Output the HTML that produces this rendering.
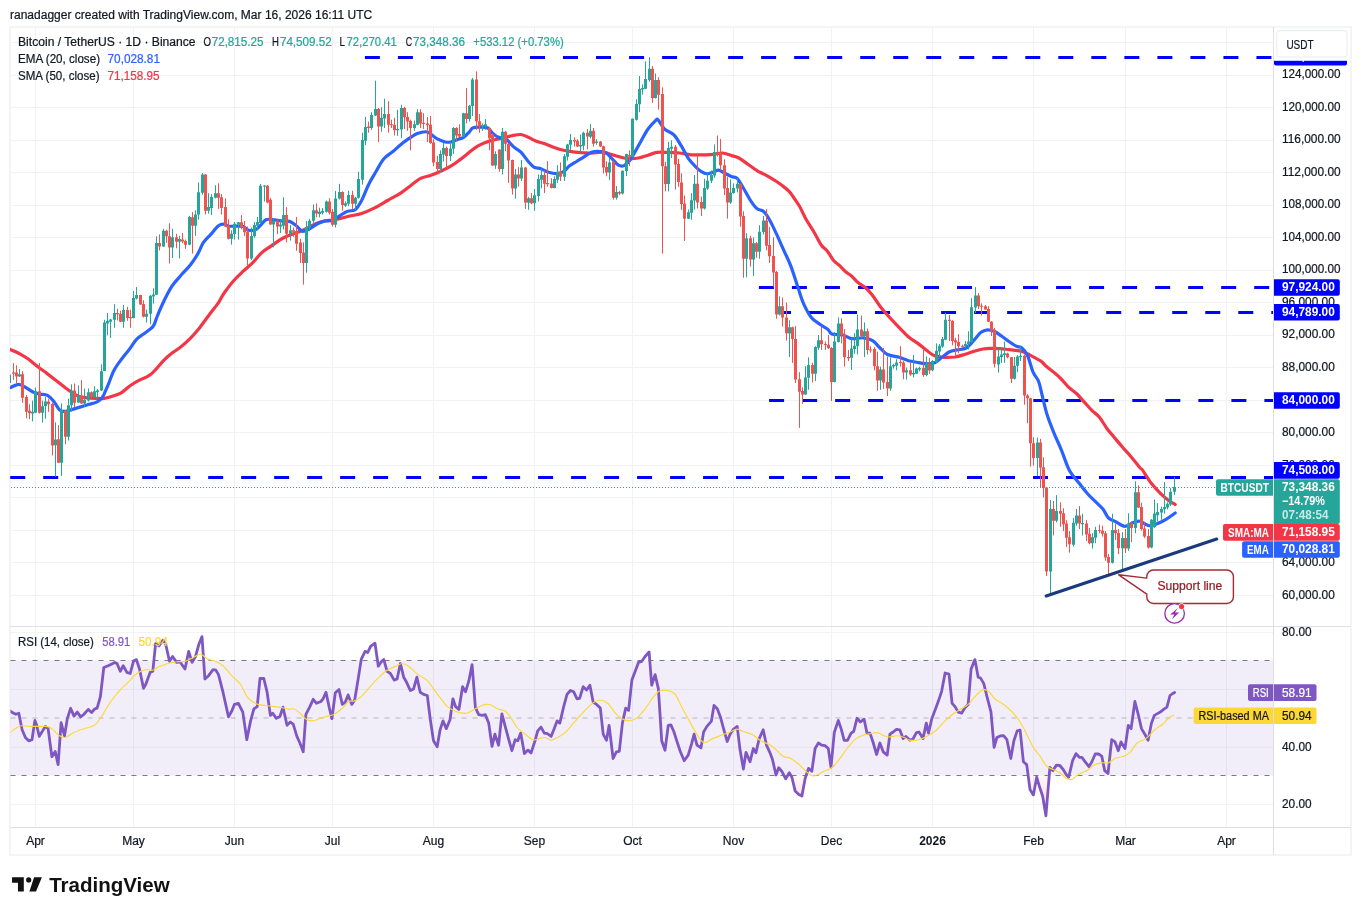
<!DOCTYPE html>
<html lang="en"><head><meta charset="utf-8"><title>BTCUSDT chart</title>
<style>html,body{margin:0;padding:0;background:#fff}svg{display:block}</style></head>
<body>
<svg width="1361" height="915" viewBox="0 0 1361 915" font-family='"Liberation Sans", Arial, sans-serif' font-size="12">
<rect width="1361" height="915" fill="#fff"/>
<text x="10.0" y="18.8" fill="#131722" textLength="362.2" lengthAdjust="spacingAndGlyphs" stroke="#131722" stroke-width="0.22">ranadagger created with TradingView.com, Mar 16, 2026 16:11 UTC</text>
<clipPath id="cp"><rect x="10" y="27.5" width="1263.5" height="599.0"/></clipPath>
<clipPath id="cr"><rect x="10.5" y="626.5" width="1263.0" height="201.0"/></clipPath>
<path d="M35.5 27V827.5M133.5 27V827.5M234.5 27V827.5M332.5 27V827.5M433.5 27V827.5M534.5 27V827.5M632.5 27V827.5M733.5 27V827.5M831.5 27V827.5M932.5 27V827.5M1033.5 27V827.5M1125.5 27V827.5M1226.5 27V827.5M10 595.5H1273.5M10 562.5H1273.5M10 530.5H1273.5M10 497.5H1273.5M10 465.5H1273.5M10 432.5H1273.5M10 400.5H1273.5M10 367.5H1273.5M10 335.5H1273.5M10 302.5H1273.5M10 270.5H1273.5M10 237.5H1273.5M10 205.5H1273.5M10 172.5H1273.5M10 140.5H1273.5M10 107.5H1273.5M10 75.5H1273.5M10 42.5H1273.5M10 632.4H1273.5M10 689.4H1273.5M10 747.2H1273.5M10 804.4H1273.5" stroke="#f1f2f4" stroke-width="1" fill="none"/>
<rect x="10" y="27" width="1341" height="828" fill="none" stroke="#f1f2f4" stroke-width="1.6"/>
<rect x="10.5" y="660.5" width="1263.0" height="115" fill="#7e57c2" fill-opacity="0.1"/>
<path d="M10.5 660.5H1273.5M10.5 775.5H1273.5" stroke="#787b86" stroke-width="1.2" stroke-dasharray="5 6" fill="none"/>
<path d="M10.5 718H1273.5" stroke="#787b86" stroke-opacity="0.5" stroke-width="1.2" stroke-dasharray="5 6" fill="none"/>
<g clip-path="url(#cp)">
<path d="M364.9 57.5H1273.5" stroke="#0000ff" stroke-width="3" stroke-dasharray="15 18.02" fill="none"/>
<path d="M758.9 287.5H1273.5" stroke="#0000ff" stroke-width="3" stroke-dasharray="15 18.02" fill="none"/>
<path d="M776.0 312.5H1273.5" stroke="#0000ff" stroke-width="3" stroke-dasharray="15 18.02" fill="none"/>
<path d="M769.1 400.5H1273.5" stroke="#0000ff" stroke-width="3" stroke-dasharray="15 18.02" fill="none"/>
<path d="M10.2 477.5H1273.5" stroke="#0000ff" stroke-width="3" stroke-dasharray="15 17.994" fill="none"/>
<path d="M10.2 349.5C11.6 350.1 15.6 351.7 18.6 353.2C21.5 354.8 24.8 356.6 27.9 358.8C31.0 361.0 34.1 363.8 37.2 366.2C40.3 368.6 43.4 370.8 46.5 373.1C49.5 375.4 52.6 377.8 55.7 380.2C58.8 382.6 62.4 385.6 65.0 387.6C67.7 389.6 69.4 390.9 71.5 392.2C73.7 393.6 75.4 395.0 78.0 396.0C80.7 396.9 84.2 397.4 87.3 397.8C90.4 398.2 93.8 398.3 96.6 398.4C99.4 398.5 101.6 398.7 104.1 398.4C106.5 398.1 108.7 397.4 111.5 396.5C114.3 395.7 117.7 395.0 120.8 393.2C123.9 391.4 127.0 387.9 130.1 385.7C133.2 383.6 135.9 382.0 139.4 380.2C142.8 378.3 146.3 378.0 150.5 374.6C154.7 371.2 160.8 363.3 164.3 359.8C167.9 356.2 169.0 355.5 171.8 353.3C174.5 351.1 177.9 349.3 181.0 346.8C184.1 344.3 187.5 341.2 190.3 338.4C193.1 335.6 194.7 333.9 197.8 330.1C200.9 326.2 205.5 319.7 208.9 315.2C212.3 310.7 216.0 306.2 218.2 303.1C220.4 300.0 220.5 298.8 221.9 296.6C223.3 294.4 224.5 292.5 226.5 289.8C228.4 287.1 231.1 283.6 233.9 280.5C236.7 277.4 240.1 274.2 243.2 271.2C246.3 268.3 249.4 265.9 252.5 262.9C255.6 259.8 258.7 255.4 261.8 252.6C264.9 249.8 267.9 248.3 271.0 246.1C274.1 244.0 277.5 241.3 280.3 239.6C283.1 237.9 285.3 237.0 287.8 235.9C290.2 234.8 292.7 234.1 295.2 233.1C297.7 232.2 300.2 231.4 302.6 230.3C305.1 229.3 307.6 227.9 310.1 226.6C312.5 225.4 314.7 223.9 317.5 222.9C320.3 221.9 324.0 221.1 326.8 220.7C329.6 220.2 330.6 220.8 334.2 220.1C337.9 219.4 344.0 217.4 348.6 216.3C353.1 215.2 357.3 214.9 361.6 213.5C365.9 212.1 370.3 210.1 374.6 207.9C378.9 205.8 383.3 203.0 387.6 200.5C391.9 198.0 396.6 195.7 400.6 193.1C404.6 190.4 408.3 187.2 411.8 184.7C415.2 182.2 417.9 179.8 421.0 178.2C424.1 176.7 427.2 176.5 430.3 175.4C433.4 174.3 436.2 173.3 439.6 171.7C443.0 170.2 447.4 168.1 450.8 166.1C454.2 164.1 457.0 161.9 460.1 159.6C463.2 157.3 466.6 154.4 469.4 152.2C472.1 150.0 474.3 148.2 476.8 146.6C479.3 145.1 481.2 144.1 484.2 142.9C487.2 141.7 491.9 140.3 494.9 139.6C497.9 138.8 499.5 138.9 502.3 138.3C505.1 137.6 508.5 136.5 511.6 135.8C514.7 135.2 518.1 134.3 520.9 134.5C523.7 134.8 525.8 136.2 528.3 137.3C530.8 138.4 533.0 140.0 535.7 141.0C538.5 142.1 541.9 142.7 545.0 143.8C548.1 144.9 551.2 146.5 554.3 147.5C557.4 148.6 560.5 149.6 563.6 150.3C566.7 151.0 569.8 151.4 572.9 151.8C576.0 152.2 579.1 152.3 582.2 152.6C585.3 152.8 588.1 153.2 591.5 153.1C594.9 153.1 599.5 152.0 602.6 152.2C605.7 152.3 607.3 153.3 610.1 154.1C612.9 154.8 616.3 156.1 619.4 156.8C622.5 157.6 625.4 158.5 628.6 158.7C631.8 158.9 635.4 158.6 638.6 158.0C641.8 157.4 644.8 156.1 647.9 155.2C651.0 154.3 653.8 152.9 657.2 152.4C660.6 151.9 664.6 152.3 668.3 152.4C672.0 152.5 675.7 152.6 679.5 153.0C683.2 153.4 686.9 154.5 690.6 154.8C694.3 155.1 698.0 154.9 701.8 154.8C705.5 154.7 709.5 154.6 712.9 154.3C716.3 154.0 719.1 152.8 722.2 153.0C725.3 153.2 728.7 154.7 731.5 155.6C734.3 156.4 736.1 156.5 738.9 158.0C741.7 159.5 745.1 162.3 748.2 164.5C751.3 166.7 755.5 169.7 757.5 171.0C759.5 172.3 758.3 171.4 760.0 172.3C761.7 173.1 765.1 174.7 767.6 176.1C770.2 177.5 772.7 179.1 775.3 180.7C777.8 182.4 780.7 184.3 782.9 186.1C785.2 187.8 787.3 189.5 789.1 191.4C790.9 193.3 791.9 195.0 793.7 197.5C795.4 200.1 797.7 203.1 799.8 206.7C801.8 210.3 803.6 214.9 805.9 219.0C808.2 223.0 811.0 226.9 813.5 231.2C816.1 235.5 818.9 241.7 821.2 245.0C823.5 248.3 825.3 248.5 827.3 251.1C829.4 253.6 831.4 257.8 833.4 260.3C835.5 262.7 837.5 263.7 839.6 265.6C841.6 267.5 843.6 270.0 845.7 271.7C847.7 273.5 849.8 274.5 851.8 276.3C853.8 278.1 855.6 280.5 857.9 282.5C860.2 284.4 863.0 285.5 865.6 287.8C868.1 290.1 870.4 292.7 873.2 296.2C876.0 299.8 878.1 304.0 882.4 309.2C886.7 314.5 894.9 323.0 899.3 327.6C903.7 332.2 905.5 334.3 908.6 336.9C911.7 339.5 914.8 341.1 917.9 343.4C921.0 345.7 924.4 348.8 927.2 350.8C929.9 352.9 931.8 354.8 934.6 355.8C937.4 356.9 940.5 357.1 943.9 357.3C947.3 357.5 951.6 357.4 955.0 357.0C958.4 356.5 961.2 355.5 964.3 354.5C967.4 353.6 970.5 352.3 973.6 351.4C976.7 350.5 979.8 349.5 982.9 349.0C986.0 348.5 989.3 348.5 992.2 348.4C995.0 348.4 997.2 348.5 1000.0 348.7C1002.8 348.9 1006.1 349.3 1009.2 349.6C1012.2 349.9 1015.6 350.1 1018.4 350.7C1021.2 351.2 1023.5 351.9 1026.0 352.9C1028.6 354.0 1031.1 355.8 1033.7 357.2C1036.2 358.6 1039.3 359.9 1041.3 361.4C1043.3 362.8 1043.9 364.2 1045.9 366.0C1047.9 367.7 1051.0 369.9 1053.5 372.1C1056.1 374.2 1058.6 376.4 1061.2 379.0C1063.7 381.5 1066.3 385.0 1068.8 387.4C1071.4 389.8 1073.9 391.1 1076.5 393.5C1079.0 395.9 1081.6 399.1 1084.1 401.9C1086.7 404.7 1089.2 407.8 1091.8 410.3C1094.3 412.9 1096.9 414.1 1099.4 417.2C1102.0 420.3 1104.5 425.2 1107.1 428.7C1109.6 432.1 1112.2 434.8 1114.7 437.9C1117.3 440.9 1119.8 444.1 1122.4 447.0C1124.9 450.0 1127.1 452.0 1130.0 455.5C1133.0 458.9 1137.9 465.3 1140.0 467.7C1142.1 470.1 1140.5 467.4 1142.4 469.9C1144.3 472.5 1148.2 479.2 1151.1 483.1C1154.1 486.9 1157.0 490.0 1159.9 492.9C1162.8 495.8 1166.1 498.6 1168.6 500.5C1171.2 502.5 1174.1 503.8 1175.2 504.5" stroke="#f23645" stroke-width="3.2" fill="none" stroke-linejoin="round" stroke-linecap="round"/>
<path d="M10.2 387.6C11.6 387.0 16.3 384.4 18.6 384.3C20.9 384.1 21.8 385.4 24.2 386.7C26.5 387.9 29.9 390.4 32.5 391.7C35.1 392.9 37.5 393.5 39.9 394.1C42.4 394.7 45.1 394.2 47.4 395.4C49.7 396.6 51.9 399.1 53.9 401.5C55.9 404.0 57.8 408.3 59.5 409.9C61.2 411.5 62.2 411.4 64.1 411.4C66.0 411.4 68.0 410.6 70.6 409.9C73.2 409.2 76.8 408.0 79.9 407.1C83.0 406.2 86.4 405.2 89.2 404.3C92.0 403.5 94.6 403.0 96.6 402.1C98.6 401.2 100.0 400.1 101.3 398.7C102.5 397.4 103.0 396.3 104.1 394.1C105.1 391.9 106.1 389.8 107.8 385.7C109.5 381.7 111.7 374.6 114.2 370.0C116.6 365.4 119.9 361.5 122.5 357.9C125.1 354.4 127.6 351.7 129.9 348.6C132.3 345.5 134.1 341.8 136.5 339.4C138.8 336.9 141.1 335.9 143.9 333.8C146.7 331.6 151.0 329.1 153.2 326.3C155.3 323.6 155.0 321.4 156.9 317.1C158.7 312.7 161.8 305.4 164.3 300.3C166.8 295.2 169.0 290.6 171.8 286.4C174.5 282.2 177.9 278.8 181.0 275.3C184.1 271.7 187.5 268.6 190.3 265.0C193.1 261.5 195.6 257.6 197.8 253.9C199.9 250.2 201.2 246.0 203.3 242.7C205.5 239.5 208.3 237.2 210.8 234.4C213.3 231.6 216.0 227.7 218.2 226.0C220.4 224.3 222.1 224.1 223.8 224.2C225.5 224.2 226.3 225.7 228.3 226.1C230.3 226.4 233.3 226.2 235.7 226.2C238.2 226.3 241.0 225.9 243.2 226.6C245.3 227.3 246.6 229.9 248.7 230.3C250.9 230.8 254.0 230.5 256.2 229.4C258.3 228.3 260.1 225.5 261.8 223.8C263.5 222.2 264.5 220.3 266.4 219.6C268.3 218.8 270.3 219.3 272.9 219.6C275.5 219.8 279.4 220.7 282.2 221.0C285.0 221.4 287.5 220.8 289.6 221.4C291.8 222.0 293.3 223.3 295.2 224.8C297.1 226.2 299.4 229.3 300.8 230.3C302.2 231.4 302.0 231.6 303.6 231.3C305.1 231.0 307.7 229.7 310.1 228.5C312.4 227.2 315.0 225.1 317.5 223.8C320.0 222.6 322.5 221.7 324.9 221.0C327.4 220.4 328.7 221.7 332.4 220.1C336.0 218.5 342.9 213.4 346.7 211.6C350.5 209.9 352.6 211.6 355.1 209.8C357.6 207.9 359.3 204.8 361.6 200.5C363.9 196.2 366.5 188.7 369.0 183.8C371.5 178.8 374.0 175.0 376.5 170.8C378.9 166.6 381.1 161.9 383.9 158.7C386.7 155.4 390.4 153.6 393.2 151.3C396.0 148.9 398.1 146.8 400.6 144.8C403.1 142.7 405.3 141.0 408.0 139.2C410.8 137.3 414.2 134.9 417.3 133.6C420.4 132.4 424.3 131.6 426.6 131.8C428.9 131.9 429.4 133.3 431.3 134.5C433.1 135.8 435.4 137.9 437.8 139.2C440.1 140.4 443.0 141.5 445.2 142.0C447.4 142.4 448.6 142.4 450.8 142.0C452.9 141.5 456.0 140.0 458.2 139.2C460.4 138.4 461.9 138.6 463.8 137.3C465.6 136.1 467.8 133.4 469.4 131.8C470.9 130.1 471.2 128.4 473.1 127.7C474.9 126.9 478.0 127.0 480.5 127.1C483.0 127.2 485.8 127.0 487.9 128.0C490.0 129.1 491.2 132.1 493.0 133.6C494.8 135.2 496.4 136.4 498.6 137.3C500.7 138.3 503.5 137.6 506.0 139.2C508.5 140.7 511.0 144.5 513.4 146.6C515.9 148.8 518.4 149.7 520.9 152.2C523.4 154.7 526.1 159.0 528.3 161.5C530.5 164.0 531.7 165.8 533.9 167.1C536.1 168.3 538.8 168.0 541.3 168.9C543.8 169.8 546.3 171.5 548.7 172.3C551.2 173.0 553.7 173.7 556.2 173.6C558.7 173.5 561.4 172.9 563.6 171.7C565.8 170.5 567.0 167.8 569.2 166.1C571.4 164.4 574.1 163.0 576.6 161.5C579.1 159.9 581.6 158.4 584.1 156.8C586.5 155.3 589.0 153.1 591.5 152.2C594.0 151.3 596.4 151.1 598.9 151.3C601.4 151.4 604.0 151.7 606.3 153.1C608.7 154.5 610.8 157.6 612.9 159.6C614.9 161.6 616.6 164.2 618.4 165.2C620.3 166.2 622.0 166.5 624.0 165.6C626.0 164.6 627.8 163.5 630.5 159.6C633.2 155.7 637.5 147.3 640.4 142.2C643.3 137.1 645.4 132.7 647.9 129.2C650.3 125.6 653.6 122.4 655.3 120.8C657.0 119.3 656.5 118.5 658.1 119.9C659.6 121.3 662.0 126.7 664.6 129.2C667.2 131.7 671.1 132.0 673.9 134.8C676.7 137.5 678.8 141.9 681.3 145.9C683.8 149.9 686.3 155.4 688.7 158.9C691.2 162.5 694.0 165.1 696.2 167.3C698.3 169.4 699.9 170.8 701.8 171.9C703.6 173.0 705.5 173.7 707.3 173.8C709.2 173.8 711.0 172.9 712.9 172.3C714.8 171.7 716.6 170.0 718.5 170.1C720.3 170.2 721.9 171.8 724.1 172.9C726.2 173.9 729.3 175.6 731.5 176.6C733.7 177.5 735.2 176.7 737.1 178.4C739.0 180.2 740.7 183.5 742.9 187.2C745.1 190.8 748.0 196.6 750.3 200.2C752.7 203.7 754.7 206.7 756.8 208.5C759.0 210.4 761.3 209.6 763.3 211.3C765.4 213.0 766.7 215.0 768.9 218.7C771.1 222.5 773.9 228.3 776.3 233.6C778.8 238.9 781.3 244.8 783.8 250.3C786.3 255.9 788.8 260.7 791.2 267.1C793.6 273.4 796.2 282.4 798.3 288.6C800.4 294.8 801.7 299.6 803.9 304.4C806.1 309.2 808.5 314.0 811.3 317.4C814.1 320.8 817.8 322.8 820.6 324.8C823.4 326.8 826.2 327.9 828.0 329.5C829.9 331.0 829.3 333.2 831.8 334.1C834.2 335.0 839.5 334.3 842.9 335.0C846.3 335.8 848.8 338.3 852.2 338.7C855.6 339.2 859.9 337.5 863.3 337.8C866.7 338.1 869.8 338.9 872.6 340.6C875.4 342.3 877.6 345.7 880.1 348.0C882.5 350.4 884.3 353.0 887.5 354.5C890.7 356.1 895.8 356.3 899.3 357.3C902.8 358.4 905.5 359.8 908.6 360.7C911.7 361.5 914.8 362.0 917.9 362.5C921.0 363.1 924.4 363.8 927.2 363.8C929.9 363.9 932.1 364.0 934.6 362.9C937.1 361.8 939.5 359.2 942.0 357.3C944.5 355.5 947.0 353.0 949.5 351.8C951.9 350.5 954.1 350.5 956.9 349.9C959.7 349.3 963.4 349.6 966.2 348.0C969.0 346.5 971.1 343.2 973.6 340.6C976.1 338.0 978.7 334.0 981.0 332.2C983.4 330.4 985.4 330.0 987.5 329.8C989.7 329.7 991.7 330.3 994.1 331.3C996.4 332.3 999.0 334.3 1001.5 336.0C1004.0 337.7 1006.4 339.8 1008.9 341.5C1011.4 343.2 1014.2 345.1 1016.3 346.2C1018.5 347.3 1020.1 346.5 1021.9 348.0C1023.8 349.6 1025.6 351.4 1027.5 355.5C1029.4 359.5 1031.2 367.9 1033.1 372.2C1034.9 376.5 1037.1 377.5 1038.6 381.5C1040.2 385.5 1040.9 390.7 1042.4 396.3C1043.8 402.0 1045.4 409.2 1047.3 415.3C1049.2 421.4 1051.5 427.0 1053.9 432.8C1056.2 438.6 1059.0 444.1 1061.5 450.3C1064.1 456.5 1066.3 464.5 1069.2 469.9C1072.1 475.4 1075.9 479.1 1079.0 483.1C1082.1 487.1 1084.8 490.7 1087.8 494.0C1090.7 497.3 1094.0 500.2 1096.5 502.7C1099.1 505.3 1101.1 506.7 1103.1 509.3C1105.1 511.8 1106.3 515.9 1108.5 518.0C1110.7 520.1 1113.4 520.6 1116.2 522.0C1118.9 523.4 1122.0 526.3 1124.9 526.3C1127.8 526.4 1131.1 523.2 1133.7 522.4C1136.2 521.6 1137.7 520.8 1140.2 521.3C1142.8 521.9 1146.0 525.3 1149.0 525.7C1151.9 526.0 1154.8 524.6 1157.7 523.5C1160.6 522.4 1163.5 520.9 1166.4 519.1C1169.4 517.4 1173.7 514.0 1175.2 513.0" stroke="#2962ff" stroke-width="3.2" fill="none" stroke-linejoin="round" stroke-linecap="round"/>
<path d="M9.50 372.4V383.9M19.50 369.0V376.8M32.50 400.6V421.4M35.50 387.6V413.1M42.50 400.6V422.5M45.50 396.9V418.8M55.50 422.3V476.8M61.50 403.4V475.9M68.50 398.7V440.6M71.50 384.3V411.8M78.50 385.4V402.8M84.50 388.5V406.6M88.50 388.5V401.5M94.50 386.3V397.3M97.50 389.1V399.7M101.50 364.4V390.8M104.50 319.8V370.9M107.50 313.0V335.3M110.50 318.9V337.9M114.50 304.1V327.8M123.50 305.0V327.8M133.50 291.0V318.4M136.50 287.0V299.4M146.50 309.6V322.6M150.50 295.1V324.1M153.50 288.3V303.7M156.50 236.2V295.1M163.50 228.8V246.8M172.50 228.8V258.0M179.50 235.7V258.5M189.50 215.8V245.2M195.50 210.3V235.9M198.50 182.4V219.6M202.50 173.1V194.7M208.50 193.2V213.6M211.50 194.1V215.1M215.50 185.2V198.4M231.50 230.3V244.6M234.50 222.0V239.6M238.50 222.0V239.6M251.50 227.5V260.1M254.50 222.0V237.8M257.50 217.0V230.3M260.50 183.9V223.8M264.50 185.0V201.5M273.50 218.8V247.4M280.50 219.2V233.1M283.50 197.3V229.4M290.50 225.1V240.6M306.50 221.0V272.7M309.50 218.8V231.3M313.50 204.3V222.9M319.50 207.7V217.3M322.50 208.0V214.5M326.50 200.6V212.7M335.50 190.9V227.5M339.50 183.8V199.6M345.50 201.4V207.0M348.50 190.8V206.1M355.50 196.8V209.8M358.50 171.7V198.6M362.50 132.7V184.7M365.50 116.9V145.1M371.50 112.2V129.9M375.50 80.7V116.0M381.50 107.2V131.8M384.50 98.7V128.0M397.50 109.8V135.8M401.50 104.8V138.3M414.50 120.6V130.8M417.50 109.1V125.3M440.50 150.3V173.0M443.50 142.9V161.5M450.50 142.0V161.1M453.50 127.1V154.1M463.50 112.8V137.3M469.50 104.8V121.5M472.50 77.9V116.0M482.50 123.4V130.8M485.50 119.1V129.9M495.50 151.3V168.9M502.50 128.0V174.5M515.50 168.9V198.6M521.50 160.0V181.0M528.50 196.8V209.8M534.50 189.0V210.7M538.50 174.5V201.4M541.50 168.9V188.4M554.50 176.3V188.4M557.50 165.2V182.9M564.50 154.1V181.0M567.50 143.8V160.6M570.50 134.0V150.3M580.50 134.5V152.6M583.50 131.8V150.3M590.50 124.0V138.3M596.50 139.2V144.8M609.50 157.8V180.1M616.50 186.0V199.6M622.50 170.4V194.6M626.50 153.7V176.0M632.50 118.4V157.4M636.50 99.2V120.6M639.50 76.0V112.2M642.50 84.4V94.6M645.50 61.4V89.2M649.50 57.1V81.8M655.50 73.4V98.5M668.50 141.8V191.4M671.50 140.3V158.0M688.50 209.5V219.1M691.50 193.1V219.7M694.50 175.1V209.5M704.50 178.8V209.5M707.50 172.3V189.9M711.50 170.4V183.1M714.50 144.4V177.9M730.50 179.4V203.9M733.50 183.4V193.8M737.50 178.2V192.4M746.50 233.2V277.3M753.50 237.3V276.0M759.50 225.3V258.7M763.50 216.0V234.5M779.50 296.4V315.5M789.50 320.2V357.0M805.50 366.2V394.9M808.50 357.3V389.8M815.50 346.2V381.1M818.50 335.0V349.9M834.50 332.2V382.4M838.50 317.4V342.5M851.50 337.8V370.0M854.50 333.2V353.6M857.50 314.6V354.5M864.50 322.4V357.0M880.50 366.6V389.8M890.50 357.3V390.8M893.50 363.8V368.5M896.50 359.2V370.3M906.50 367.5V379.6M913.50 355.1V377.4M916.50 367.5V374.1M919.50 366.6V371.3M926.50 356.4V376.3M932.50 360.1V371.3M936.50 343.4V362.9M939.50 344.0V357.0M942.50 336.9V347.7M945.50 312.7V340.2M965.50 341.0V348.4M968.50 331.3V349.5M971.50 298.2V342.5M975.50 287.1V313.1M998.50 347.7V372.6M1001.50 348.0V362.9M1004.50 341.5V362.9M1014.50 357.0V379.6M1017.50 355.1V372.2M1020.50 345.8V361.0M1037.50 437.6V476.1M1050.50 500.1V594.5M1056.50 495.1V522.4M1073.50 518.0V546.4M1076.50 508.9V525.7M1082.50 513.7V535.5M1092.50 533.3V548.6M1095.50 526.8V543.2M1112.50 513.7V563.5M1122.50 532.2V569.4M1128.50 513.2V550.8M1135.50 481.3V533.3M1151.50 519.1V548.2M1154.50 499.5V527.9M1157.50 503.2V521.5M1161.50 506.7V519.8M1164.50 482.0V513.7M1167.50 502.3V509.3M1170.50 487.9V506.0M1174.50 476.9V495.1" stroke="#26a69a" stroke-width="1" fill="none"/>
<path d="M13.50 363.1V379.8M16.50 365.3V383.9M22.50 371.2V402.8M26.50 395.0V418.3M29.50 404.3V419.2M39.50 363.1V413.6M48.50 398.7V411.8M52.50 402.5V455.4M58.50 425.1V463.0M65.50 409.9V444.3M74.50 383.5V407.1M81.50 380.2V403.8M91.50 391.3V397.8M117.50 308.7V320.4M120.50 310.6V322.1M127.50 306.8V320.8M130.50 309.6V327.8M140.50 294.8V305.0M143.50 300.3V317.4M159.50 234.4V250.5M166.50 229.7V242.7M169.50 223.2V263.5M176.50 233.8V248.3M182.50 233.1V243.3M185.50 239.6V248.9M192.50 212.1V253.6M205.50 174.2V214.5M218.50 183.3V209.0M221.50 194.1V214.5M225.50 198.4V227.0M228.50 219.2V239.6M241.50 215.1V229.4M244.50 221.0V235.9M247.50 226.6V265.6M267.50 185.0V203.4M270.50 197.8V224.8M277.50 219.2V234.1M286.50 207.1V242.4M293.50 227.5V236.8M296.50 217.0V250.8M300.50 238.7V262.9M303.50 242.4V284.6M316.50 203.4V217.3M329.50 198.2V214.5M332.50 209.0V226.6M342.50 191.2V210.7M352.50 190.8V208.9M368.50 121.5V132.7M378.50 108.0V142.0M388.50 101.1V132.7M391.50 119.7V128.0M394.50 117.8V135.5M404.50 106.7V129.0M407.50 112.2V130.8M410.50 119.7V150.3M420.50 109.1V128.0M423.50 113.2V129.0M427.50 116.9V142.0M430.50 116.0V143.8M433.50 139.2V166.1M437.50 155.9V171.7M446.50 146.6V168.0M456.50 127.1V141.0M459.50 124.3V137.3M466.50 88.1V123.4M476.50 71.4V129.9M479.50 114.1V132.7M489.50 127.1V150.3M492.50 133.6V166.1M499.50 149.4V171.7M505.50 130.8V151.3M508.50 142.9V182.9M512.50 159.6V194.6M518.50 167.1V186.6M525.50 167.1V208.9M531.50 193.1V204.2M544.50 170.8V193.1M547.50 161.1V186.6M551.50 178.2V188.4M560.50 162.4V181.0M574.50 137.3V146.6M577.50 139.2V147.0M587.50 129.0V149.4M593.50 128.0V146.6M600.50 141.0V147.0M603.50 145.7V173.6M606.50 161.5V176.3M613.50 160.6V199.6M619.50 190.8V195.3M629.50 150.3V166.1M652.50 66.0V102.8M658.50 77.2V109.7M662.50 87.4V253.7M665.50 161.7V191.4M675.50 145.0V189.6M678.50 158.9V186.8M681.50 173.2V209.8M684.50 195.5V241.0M697.50 155.6V208.5M701.50 196.5V216.0M717.50 135.5V156.5M720.50 138.9V170.4M724.50 159.3V195.0M727.50 176.9V218.7M740.50 183.4V226.6M743.50 211.3V277.8M750.50 235.8V266.7M756.50 242.0V257.8M766.50 209.1V250.3M769.50 227.1V263.0M773.50 237.3V286.6M776.50 270.9V318.7M782.50 297.5V326.7M786.50 302.5V340.6M792.50 326.7V362.9M795.50 326.1V383.0M799.50 372.2V427.9M802.50 387.4V403.8M812.50 362.9V382.4M821.50 326.7V349.9M825.50 341.5V349.9M828.50 335.0V349.0M831.50 347.1V401.0M841.50 318.3V343.4M844.50 329.1V366.6M848.50 349.9V361.0M861.50 315.5V337.8M867.50 328.5V354.5M870.50 346.2V352.7M874.50 347.1V370.3M877.50 351.8V390.8M883.50 348.0V388.9M887.50 356.4V396.0M900.50 346.2V366.6M903.50 361.0V379.3M910.50 362.5V375.9M923.50 349.0V376.8M929.50 357.9V373.9M949.50 315.0V341.0M952.50 320.2V345.3M955.50 337.8V355.8M958.50 334.1V353.2M962.50 344.7V347.7M978.50 293.2V309.0M981.50 303.4V315.5M985.50 304.9V309.9M988.50 306.2V322.0M991.50 321.1V336.0M994.50 328.0V367.5M1007.50 352.7V358.3M1011.50 357.0V383.0M1024.50 354.5V404.7M1027.50 394.1V423.3M1030.50 397.8V466.7M1033.50 437.2V465.6M1040.50 438.9V487.4M1043.50 457.3V497.3M1046.50 487.0V576.0M1053.50 501.0V535.5M1060.50 502.3V526.8M1063.50 508.2V531.1M1066.50 520.2V546.9M1069.50 531.1V552.6M1079.50 506.0V529.0M1086.50 519.8V541.0M1089.50 527.9V544.3M1099.50 524.6V533.3M1102.50 525.7V536.6M1105.50 531.1V560.7M1108.50 554.1V574.4M1115.50 523.5V539.9M1118.50 529.0V554.1M1125.50 529.0V553.0M1131.50 521.3V542.1M1138.50 485.2V508.2M1141.50 502.7V530.7M1144.50 522.4V538.1M1148.50 529.0V548.6" stroke="#ef5350" stroke-width="1" fill="none"/>
<path d="M8.00 374.6h3.0V383.0h-3.0zM18.00 374.2h3.0V376.5h-3.0zM31.00 411.8h3.0V413.6h-3.0zM34.00 391.3h3.0V412.7h-3.0zM41.00 406.2h3.0V412.7h-3.0zM44.00 401.5h3.0V406.2h-3.0zM54.00 439.6h3.0V445.2h-3.0zM60.00 409.9h3.0V462.7h-3.0zM67.00 405.3h3.0V436.8h-3.0zM70.00 390.4h3.0V405.3h-3.0zM77.00 395.0h3.0V402.5h-3.0zM83.00 399.7h3.0V403.4h-3.0zM87.00 392.2h3.0V400.6h-3.0zM93.00 391.3h3.0V396.9h-3.0zM96.00 390.4h3.0V392.2h-3.0zM100.00 371.2h3.0V390.4h-3.0zM103.00 322.6h3.0V370.9h-3.0zM106.00 320.8h3.0V323.6h-3.0zM109.00 319.5h3.0V321.7h-3.0zM113.00 313.0h3.0V319.8h-3.0zM122.00 310.0h3.0V321.7h-3.0zM132.00 298.1h3.0V318.0h-3.0zM135.00 295.1h3.0V298.5h-3.0zM145.00 313.7h3.0V316.7h-3.0zM149.00 295.7h3.0V313.7h-3.0zM152.00 294.4h3.0V296.6h-3.0zM155.00 243.1h3.0V294.8h-3.0zM162.00 230.7h3.0V246.5h-3.0zM171.00 237.2h3.0V247.4h-3.0zM178.00 239.0h3.0V241.8h-3.0zM188.00 217.0h3.0V244.8h-3.0zM194.00 214.5h3.0V225.7h-3.0zM197.00 192.2h3.0V214.5h-3.0zM201.00 174.6h3.0V192.8h-3.0zM207.00 207.1h3.0V210.8h-3.0zM210.00 196.9h3.0V208.0h-3.0zM214.00 193.2h3.0V197.8h-3.0zM230.00 233.7h3.0V238.7h-3.0zM233.00 223.8h3.0V234.1h-3.0zM237.00 222.3h3.0V224.8h-3.0zM250.00 235.9h3.0V258.6h-3.0zM253.00 225.1h3.0V236.3h-3.0zM256.00 222.0h3.0V225.7h-3.0zM259.00 185.7h3.0V222.9h-3.0zM263.00 185.4h3.0V186.4h-3.0zM272.00 220.7h3.0V224.4h-3.0zM279.00 224.4h3.0V226.6h-3.0zM282.00 215.1h3.0V225.7h-3.0zM289.00 230.3h3.0V234.1h-3.0zM305.00 227.0h3.0V262.9h-3.0zM308.00 220.7h3.0V227.5h-3.0zM312.00 210.3h3.0V220.7h-3.0zM318.00 211.8h3.0V214.0h-3.0zM321.00 210.8h3.0V212.7h-3.0zM325.00 201.5h3.0V211.8h-3.0zM334.00 198.4h3.0V224.8h-3.0zM338.00 192.1h3.0V198.6h-3.0zM344.00 203.3h3.0V205.7h-3.0zM347.00 194.9h3.0V203.8h-3.0zM354.00 197.7h3.0V203.8h-3.0zM357.00 179.1h3.0V197.7h-3.0zM361.00 140.1h3.0V179.7h-3.0zM364.00 127.1h3.0V140.7h-3.0zM370.00 115.0h3.0V128.0h-3.0zM374.00 109.1h3.0V115.4h-3.0zM380.00 117.8h3.0V126.6h-3.0zM383.00 114.1h3.0V118.4h-3.0zM396.00 129.0h3.0V130.3h-3.0zM400.00 108.0h3.0V129.5h-3.0zM413.00 124.3h3.0V128.0h-3.0zM416.00 112.2h3.0V124.7h-3.0zM439.00 154.1h3.0V168.9h-3.0zM442.00 148.1h3.0V154.4h-3.0zM449.00 148.5h3.0V155.9h-3.0zM452.00 128.0h3.0V148.8h-3.0zM462.00 113.2h3.0V136.4h-3.0zM468.00 105.7h3.0V119.1h-3.0zM471.00 79.4h3.0V106.1h-3.0zM481.00 125.3h3.0V126.6h-3.0zM484.00 124.3h3.0V126.2h-3.0zM494.00 154.1h3.0V165.6h-3.0zM501.00 131.8h3.0V168.9h-3.0zM514.00 174.5h3.0V188.4h-3.0zM520.00 167.4h3.0V178.6h-3.0zM527.00 198.3h3.0V202.7h-3.0zM533.00 195.3h3.0V203.3h-3.0zM537.00 179.1h3.0V195.9h-3.0zM540.00 174.9h3.0V179.7h-3.0zM553.00 179.1h3.0V187.9h-3.0zM556.00 171.7h3.0V179.7h-3.0zM563.00 156.3h3.0V176.7h-3.0zM566.00 144.4h3.0V156.8h-3.0zM569.00 140.1h3.0V144.8h-3.0zM579.00 145.1h3.0V146.6h-3.0zM582.00 132.7h3.0V145.7h-3.0zM589.00 130.8h3.0V136.8h-3.0zM595.00 141.4h3.0V142.9h-3.0zM608.00 162.4h3.0V172.6h-3.0zM615.00 192.1h3.0V197.7h-3.0zM621.00 170.8h3.0V193.4h-3.0zM625.00 154.1h3.0V171.1h-3.0zM631.00 118.7h3.0V156.8h-3.0zM635.00 103.9h3.0V119.7h-3.0zM638.00 89.0h3.0V104.3h-3.0zM641.00 88.1h3.0V89.4h-3.0zM644.00 79.0h3.0V88.7h-3.0zM648.00 68.8h3.0V79.9h-3.0zM654.00 79.9h3.0V98.0h-3.0zM667.00 148.1h3.0V184.0h-3.0zM670.00 146.8h3.0V148.7h-3.0zM687.00 212.2h3.0V218.7h-3.0zM690.00 200.2h3.0V212.8h-3.0zM693.00 183.8h3.0V200.5h-3.0zM703.00 188.1h3.0V208.5h-3.0zM706.00 180.7h3.0V188.5h-3.0zM710.00 175.1h3.0V180.7h-3.0zM713.00 151.9h3.0V175.5h-3.0zM729.00 192.4h3.0V202.4h-3.0zM732.00 188.1h3.0V193.1h-3.0zM736.00 183.8h3.0V188.5h-3.0zM745.00 238.3h3.0V258.7h-3.0zM752.00 243.3h3.0V259.6h-3.0zM758.00 231.8h3.0V251.8h-3.0zM762.00 220.6h3.0V232.1h-3.0zM778.00 306.2h3.0V314.6h-3.0zM788.00 327.2h3.0V333.5h-3.0zM804.00 377.4h3.0V394.5h-3.0zM807.00 365.1h3.0V377.8h-3.0zM814.00 347.1h3.0V373.7h-3.0zM817.00 340.2h3.0V347.7h-3.0zM833.00 341.5h3.0V381.9h-3.0zM837.00 323.5h3.0V342.1h-3.0zM850.00 348.4h3.0V357.7h-3.0zM853.00 345.8h3.0V349.0h-3.0zM856.00 329.5h3.0V346.2h-3.0zM863.00 331.3h3.0V336.0h-3.0zM879.00 369.4h3.0V380.6h-3.0zM889.00 366.2h3.0V388.5h-3.0zM892.00 365.1h3.0V366.6h-3.0zM895.00 362.5h3.0V365.7h-3.0zM905.00 370.3h3.0V372.6h-3.0zM912.00 373.1h3.0V374.4h-3.0zM915.00 368.5h3.0V373.7h-3.0zM918.00 368.1h3.0V369.4h-3.0zM925.00 363.8h3.0V375.0h-3.0zM931.00 361.0h3.0V370.3h-3.0zM935.00 350.8h3.0V362.0h-3.0zM938.00 345.8h3.0V351.4h-3.0zM941.00 339.1h3.0V346.6h-3.0zM944.00 319.8h3.0V339.7h-3.0zM964.00 344.0h3.0V346.6h-3.0zM967.00 341.5h3.0V344.3h-3.0zM970.00 307.2h3.0V342.1h-3.0zM974.00 295.6h3.0V307.5h-3.0zM997.00 356.4h3.0V364.4h-3.0zM1000.00 354.5h3.0V357.0h-3.0zM1003.00 353.2h3.0V355.1h-3.0zM1013.00 365.7h3.0V378.7h-3.0zM1016.00 356.4h3.0V365.7h-3.0zM1019.00 355.8h3.0V357.3h-3.0zM1036.00 442.6h3.0V457.9h-3.0zM1049.00 508.9h3.0V571.6h-3.0zM1055.00 511.0h3.0V520.7h-3.0zM1072.00 522.8h3.0V544.7h-3.0zM1075.00 515.4h3.0V523.5h-3.0zM1081.00 523.1h3.0V524.2h-3.0zM1091.00 537.3h3.0V543.2h-3.0zM1094.00 530.1h3.0V537.7h-3.0zM1111.00 530.1h3.0V562.8h-3.0zM1121.00 538.1h3.0V548.2h-3.0zM1127.00 523.5h3.0V548.6h-3.0zM1134.00 492.2h3.0V527.9h-3.0zM1150.00 519.8h3.0V547.5h-3.0zM1153.00 513.4h3.0V527.2h-3.0zM1156.00 511.9h3.0V515.2h-3.0zM1160.00 508.9h3.0V512.6h-3.0zM1163.00 507.1h3.0V509.3h-3.0zM1166.00 503.8h3.0V507.5h-3.0zM1169.00 491.8h3.0V504.5h-3.0zM1173.00 487.0h3.0V491.8h-3.0z" fill="#26a69a"/>
<path d="M12.00 372.4h3.0V373.8h-3.0zM15.00 372.4h3.0V376.5h-3.0zM21.00 374.2h3.0V397.8h-3.0zM25.00 396.9h3.0V411.8h-3.0zM28.00 410.8h3.0V413.2h-3.0zM38.00 391.3h3.0V412.7h-3.0zM47.00 401.5h3.0V404.3h-3.0zM51.00 404.0h3.0V445.6h-3.0zM57.00 439.3h3.0V462.7h-3.0zM64.00 410.8h3.0V436.8h-3.0zM73.00 390.4h3.0V402.8h-3.0zM80.00 395.4h3.0V403.4h-3.0zM90.00 392.2h3.0V396.9h-3.0zM116.00 313.0h3.0V314.3h-3.0zM119.00 313.7h3.0V321.7h-3.0zM126.00 310.0h3.0V318.0h-3.0zM129.00 317.1h3.0V318.2h-3.0zM139.00 295.1h3.0V304.4h-3.0zM142.00 304.1h3.0V316.7h-3.0zM158.00 243.1h3.0V246.5h-3.0zM165.00 230.7h3.0V236.2h-3.0zM168.00 236.2h3.0V247.4h-3.0zM175.00 237.2h3.0V241.8h-3.0zM181.00 239.6h3.0V241.5h-3.0zM184.00 241.1h3.0V244.8h-3.0zM191.00 217.3h3.0V225.7h-3.0zM204.00 174.6h3.0V210.8h-3.0zM217.00 193.2h3.0V197.8h-3.0zM220.00 197.3h3.0V208.0h-3.0zM224.00 207.1h3.0V226.6h-3.0zM227.00 225.7h3.0V238.7h-3.0zM240.00 222.3h3.0V227.5h-3.0zM243.00 226.6h3.0V232.2h-3.0zM246.00 231.8h3.0V258.6h-3.0zM266.00 185.7h3.0V202.5h-3.0zM269.00 199.7h3.0V224.4h-3.0zM276.00 220.7h3.0V226.6h-3.0zM285.00 215.1h3.0V233.7h-3.0zM292.00 230.3h3.0V231.8h-3.0zM295.00 231.3h3.0V243.7h-3.0zM299.00 242.4h3.0V253.0h-3.0zM302.00 252.6h3.0V262.9h-3.0zM315.00 210.3h3.0V213.6h-3.0zM328.00 201.5h3.0V212.7h-3.0zM331.00 211.8h3.0V224.8h-3.0zM341.00 192.1h3.0V205.1h-3.0zM351.00 194.9h3.0V203.8h-3.0zM367.00 126.6h3.0V128.0h-3.0zM377.00 109.1h3.0V126.6h-3.0zM387.00 114.1h3.0V124.7h-3.0zM390.00 124.3h3.0V125.3h-3.0zM393.00 124.7h3.0V130.3h-3.0zM403.00 108.0h3.0V117.3h-3.0zM406.00 116.9h3.0V121.5h-3.0zM409.00 121.0h3.0V128.0h-3.0zM419.00 112.2h3.0V123.4h-3.0zM422.00 122.8h3.0V124.0h-3.0zM426.00 123.4h3.0V125.3h-3.0zM429.00 124.7h3.0V142.9h-3.0zM432.00 142.5h3.0V162.4h-3.0zM436.00 162.0h3.0V168.9h-3.0zM445.00 148.1h3.0V155.9h-3.0zM455.00 128.0h3.0V135.5h-3.0zM458.00 134.0h3.0V136.4h-3.0zM465.00 113.2h3.0V119.1h-3.0zM475.00 79.4h3.0V121.5h-3.0zM478.00 121.2h3.0V126.2h-3.0zM488.00 128.0h3.0V138.3h-3.0zM491.00 134.5h3.0V165.6h-3.0zM498.00 149.4h3.0V168.9h-3.0zM504.00 131.8h3.0V143.8h-3.0zM507.00 143.8h3.0V160.6h-3.0zM511.00 160.0h3.0V188.4h-3.0zM517.00 174.5h3.0V178.6h-3.0zM524.00 167.4h3.0V202.4h-3.0zM530.00 198.3h3.0V203.3h-3.0zM543.00 174.9h3.0V183.8h-3.0zM546.00 182.9h3.0V184.2h-3.0zM550.00 183.4h3.0V187.9h-3.0zM559.00 171.7h3.0V176.7h-3.0zM573.00 140.1h3.0V141.4h-3.0zM576.00 140.7h3.0V146.6h-3.0zM586.00 132.7h3.0V136.4h-3.0zM592.00 130.8h3.0V143.8h-3.0zM599.00 141.4h3.0V146.6h-3.0zM602.00 146.2h3.0V167.4h-3.0zM605.00 167.1h3.0V172.6h-3.0zM612.00 161.5h3.0V197.7h-3.0zM618.00 192.1h3.0V193.4h-3.0zM628.00 155.0h3.0V156.8h-3.0zM651.00 68.8h3.0V98.0h-3.0zM657.00 79.9h3.0V94.8h-3.0zM661.00 93.9h3.0V166.3h-3.0zM664.00 166.3h3.0V184.0h-3.0zM674.00 146.8h3.0V164.5h-3.0zM677.00 164.1h3.0V182.1h-3.0zM680.00 182.5h3.0V203.9h-3.0zM683.00 203.5h3.0V218.7h-3.0zM696.00 183.8h3.0V202.4h-3.0zM700.00 202.0h3.0V208.5h-3.0zM716.00 151.9h3.0V153.7h-3.0zM719.00 152.8h3.0V165.2h-3.0zM723.00 165.2h3.0V188.6h-3.0zM726.00 188.1h3.0V202.4h-3.0zM739.00 183.8h3.0V216.5h-3.0zM742.00 216.0h3.0V258.7h-3.0zM749.00 238.3h3.0V259.6h-3.0zM755.00 243.3h3.0V251.8h-3.0zM765.00 220.6h3.0V245.7h-3.0zM768.00 245.1h3.0V256.3h-3.0zM772.00 255.9h3.0V272.6h-3.0zM775.00 271.9h3.0V314.6h-3.0zM781.00 306.2h3.0V317.4h-3.0zM785.00 317.4h3.0V333.2h-3.0zM791.00 327.2h3.0V339.1h-3.0zM794.00 339.1h3.0V379.6h-3.0zM798.00 379.3h3.0V391.7h-3.0zM801.00 391.1h3.0V394.5h-3.0zM811.00 365.1h3.0V373.7h-3.0zM820.00 340.2h3.0V344.3h-3.0zM824.00 344.0h3.0V345.0h-3.0zM827.00 344.7h3.0V348.0h-3.0zM830.00 348.0h3.0V381.9h-3.0zM840.00 323.5h3.0V335.0h-3.0zM843.00 334.7h3.0V357.3h-3.0zM847.00 357.0h3.0V358.3h-3.0zM860.00 329.5h3.0V336.0h-3.0zM866.00 331.3h3.0V349.9h-3.0zM869.00 349.5h3.0V350.5h-3.0zM873.00 349.0h3.0V366.2h-3.0zM876.00 366.2h3.0V380.6h-3.0zM882.00 369.4h3.0V382.4h-3.0zM886.00 382.0h3.0V388.5h-3.0zM899.00 362.0h3.0V363.0h-3.0zM902.00 362.5h3.0V372.6h-3.0zM909.00 370.3h3.0V374.4h-3.0zM922.00 368.1h3.0V375.0h-3.0zM928.00 363.8h3.0V370.5h-3.0zM948.00 319.8h3.0V321.1h-3.0zM951.00 321.1h3.0V341.0h-3.0zM954.00 340.2h3.0V342.5h-3.0zM957.00 342.1h3.0V346.2h-3.0zM961.00 345.8h3.0V346.8h-3.0zM977.00 295.6h3.0V306.2h-3.0zM980.00 305.7h3.0V306.8h-3.0zM984.00 306.2h3.0V309.4h-3.0zM987.00 309.0h3.0V321.7h-3.0zM990.00 321.7h3.0V330.4h-3.0zM993.00 329.8h3.0V363.8h-3.0zM1006.00 353.6h3.0V357.3h-3.0zM1010.00 357.3h3.0V378.7h-3.0zM1023.00 355.8h3.0V395.4h-3.0zM1026.00 395.4h3.0V398.2h-3.0zM1029.00 398.3h3.0V443.3h-3.0zM1032.00 443.3h3.0V457.9h-3.0zM1039.00 442.6h3.0V467.8h-3.0zM1042.00 467.3h3.0V487.9h-3.0zM1045.00 487.4h3.0V571.6h-3.0zM1052.00 508.9h3.0V520.7h-3.0zM1059.00 511.0h3.0V513.7h-3.0zM1062.00 513.2h3.0V524.2h-3.0zM1065.00 523.5h3.0V537.7h-3.0zM1068.00 537.3h3.0V544.3h-3.0zM1078.00 515.4h3.0V523.5h-3.0zM1085.00 523.5h3.0V534.4h-3.0zM1088.00 533.8h3.0V543.2h-3.0zM1098.00 530.1h3.0V531.1h-3.0zM1101.00 530.7h3.0V533.8h-3.0zM1104.00 533.3h3.0V557.4h-3.0zM1107.00 556.9h3.0V562.8h-3.0zM1114.00 530.1h3.0V533.3h-3.0zM1117.00 532.9h3.0V548.2h-3.0zM1124.00 538.1h3.0V548.6h-3.0zM1130.00 523.5h3.0V527.9h-3.0zM1137.00 492.2h3.0V507.5h-3.0zM1140.00 507.1h3.0V529.0h-3.0zM1143.00 528.5h3.0V536.6h-3.0zM1147.00 536.0h3.0V547.5h-3.0z" fill="#ef5350"/>
<path d="M11 487.5H1215" stroke="#26a69a" stroke-width="1" stroke-dasharray="1 2" fill="none"/>
<path d="M1046.2 596L1216.7 539.1" stroke="#1a3a7c" stroke-width="3.2" stroke-linecap="round" fill="none"/>
</g>
<path d="M1153.3 570H1226.9a6.5 6.5 0 0 1 6.5 6.5V597a6.5 6.5 0 0 1 -6.5 6.5H1153.3a6.5 6.5 0 0 1 -6.5 -6.5V594.1L1118.7 574.8L1146.8 578.1V576.5a6.5 6.5 0 0 1 6.5 -6.5z" fill="#fff" stroke="#a52a33" stroke-width="1.4" stroke-linejoin="round"/>
<text x="1157.5" y="589.9" fill="#98141f" textLength="64.8" lengthAdjust="spacingAndGlyphs" stroke="#98141f" stroke-width="0.22">Support line</text>
<circle cx="1174.6" cy="613.4" r="9.8" fill="#fff" stroke="#9c27b0" stroke-width="1.3"/>
<path d="M1177.6 608.2L1170.2 614.6H1174.4L1171.8 619.4L1179.2 612.6H1175z" fill="#9c27b0"/>
<circle cx="1181.6" cy="606.6" r="3.4" fill="#fff"/><circle cx="1181.6" cy="606.6" r="2.6" fill="#f23645"/>
<g clip-path="url(#cr)">
<clipPath id="c70"><rect x="10" y="626.5" width="1263.5" height="34.2"/></clipPath>
<clipPath id="c30"><rect x="10" y="775.5" width="1263.5" height="52.0"/></clipPath>
<linearGradient id="gg" gradientUnits="userSpaceOnUse" x1="0" y1="626.3" x2="0" y2="660.7"><stop offset="0" stop-color="#4caf50" stop-opacity="0.16"/><stop offset="1" stop-color="#4caf50" stop-opacity="0"/></linearGradient>
<linearGradient id="gr" gradientUnits="userSpaceOnUse" x1="0" y1="775.5" x2="0" y2="821.4"><stop offset="0" stop-color="#ff5252" stop-opacity="0.04"/><stop offset="1" stop-color="#ff5252" stop-opacity="0.3"/></linearGradient>
<path d="M9.9 711.0L13.7 713.2L15.9 714.3L18.8 713.2L22.1 729.8L25.4 737.5L28.7 740.8L32.0 739.7L34.9 720.5L36.4 724.2L39.3 736.4L41.9 732.0L45.3 726.4L48.1 728.6L51.9 756.7L55.2 751.4L58.1 764.6L61.1 722.7L64.5 735.9L67.3 718.7L70.6 708.3L74.0 716.1L77.3 712.1L80.6 716.9L83.9 714.3L88.3 709.4L91.6 712.5L94.9 708.8L97.1 708.1L100.4 696.6L103.8 667.5L108.2 665.7L114.8 662.4L117.0 663.5L120.3 671.3L123.2 665.7L126.9 672.4L130.2 673.5L133.6 660.9L136.4 659.6L139.5 669.0L143.5 688.3L145.7 684.5L150.1 672.4L152.8 671.3L155.6 643.7L158.9 645.9L162.9 640.3L165.6 643.7L169.5 661.3L172.6 656.5L176.6 662.4L179.9 661.8L185.0 669.0L188.7 651.4L192.1 662.4L195.4 656.9L198.7 644.8L202.0 636.6L204.9 679.0L208.6 675.7L213.0 669.7L215.9 670.2L218.5 674.6L223.0 692.2L228.5 716.9L231.8 711.0L234.4 704.4L238.4 703.3L242.8 712.1L246.8 739.7L250.6 720.9L253.9 708.8L257.2 706.6L260.0 678.5L263.8 678.5L267.1 692.2L270.4 715.4L272.6 713.2L276.4 718.3L279.9 716.5L283.0 707.2L287.0 725.3L290.3 722.0L293.2 724.2L296.9 736.4L299.9 743.0L303.2 751.8L305.9 714.3L309.9 706.6L313.2 699.3L316.5 703.3L320.9 701.5L323.1 698.8L326.0 692.2L329.3 707.7L331.9 718.7L335.3 692.7L339.0 689.6L342.3 704.4L345.2 702.2L348.1 694.9L351.8 704.4L354.7 700.0L358.0 680.1L361.3 659.1L365.1 651.4L367.7 652.5L370.6 646.3L375.0 643.2L378.3 666.2L381.6 661.3L383.8 659.6L387.1 671.3L390.4 673.5L394.2 680.1L397.1 679.0L400.4 663.5L403.7 677.2L406.6 682.3L410.3 690.5L413.6 688.9L416.9 677.2L420.2 692.2L423.6 694.4L427.3 695.5L430.2 718.7L433.5 740.8L437.2 746.8L440.1 729.8L443.0 720.9L446.3 728.6L450.0 719.8L452.9 698.8L455.6 706.6L458.9 709.4L462.6 686.7L465.5 691.8L468.8 681.2L472.1 664.6L475.4 707.7L478.7 714.7L482.1 715.4L485.4 714.7L488.7 723.1L492.0 746.3L494.9 734.2L498.6 745.2L501.9 713.9L505.2 726.4L508.5 738.6L511.9 750.7L515.2 739.7L517.8 740.8L520.7 733.1L524.4 753.6L528.0 750.1L531.1 752.9L535.0 740.8L537.7 730.9L541.0 727.1L544.3 733.1L547.2 733.5L551.1 736.4L553.8 729.8L557.1 720.9L559.8 723.1L563.7 706.6L567.0 694.4L570.4 690.5L573.7 691.8L577.0 698.8L579.6 698.4L583.2 686.7L586.6 690.0L589.9 685.2L593.2 702.2L596.6 704.4L600.3 708.1L603.2 734.2L606.5 740.3L609.1 725.3L613.1 758.5L616.4 751.8L619.3 751.4L622.4 723.1L625.7 708.1L628.6 710.3L631.9 680.1L635.2 671.3L638.5 662.4L641.8 661.3L645.1 656.5L649.1 652.0L651.7 685.2L655.1 674.6L658.4 688.9L661.7 740.8L665.0 750.3L668.3 725.3L670.9 724.9L673.8 731.5L677.1 741.9L680.4 751.8L684.2 760.7L688.2 755.1L691.5 744.1L694.1 734.2L697.0 745.2L701.0 747.9L703.6 732.0L706.9 726.4L711.3 721.4L714.0 705.5L717.3 708.8L720.6 717.6L723.9 729.8L727.2 741.5L730.1 734.2L733.4 729.3L737.2 726.4L740.0 749.6L743.4 769.0L746.0 752.3L750.0 761.8L753.3 748.5L755.9 752.9L759.2 738.6L763.2 729.8L766.5 745.2L769.8 752.3L772.5 759.6L776.0 775.0L778.7 767.7L782.0 771.7L785.7 778.8L789.3 772.8L791.9 777.2L795.2 791.1L798.5 794.2L801.9 796.0L805.2 778.3L808.5 768.4L811.8 771.3L815.1 748.5L818.4 743.0L821.7 745.2L825.0 745.6L828.3 748.5L831.0 767.3L834.3 732.4L838.3 720.5L841.1 728.6L844.2 740.3L847.5 740.3L851.1 733.1L853.7 731.5L857.0 718.3L860.4 722.0L864.1 719.2L867.0 733.1L870.0 733.1L873.3 743.0L876.6 754.5L879.9 743.0L883.2 751.8L887.2 755.1L889.9 734.2L893.2 732.0L896.5 729.3L899.8 729.8L903.1 738.6L906.0 736.4L909.7 740.1L913.0 739.0L916.4 732.6L919.0 732.0L923.0 738.6L926.3 723.1L928.5 733.1L931.8 718.7L935.1 709.9L938.4 701.1L941.7 691.1L945.1 673.0L949.0 674.1L952.1 703.3L955.0 706.6L958.3 712.1L961.6 713.2L964.9 707.7L968.2 704.4L971.1 669.0L974.9 659.6L978.2 677.2L980.4 677.9L983.7 683.4L987.0 696.6L991.0 712.1L994.1 747.4L996.9 737.5L1000.2 735.9L1003.6 735.7L1006.9 739.7L1010.8 758.5L1013.9 740.8L1017.2 730.9L1020.1 730.2L1023.4 761.8L1026.7 764.6L1030.0 789.4L1033.4 794.9L1036.7 777.2L1040.0 788.3L1042.6 796.0L1045.9 815.8L1049.9 767.3L1052.8 770.6L1056.5 765.1L1059.8 765.5L1063.2 769.5L1066.5 775.0L1068.7 777.2L1072.6 760.7L1076.0 753.6L1079.3 757.3L1081.9 757.3L1085.2 761.8L1089.0 766.6L1091.9 761.8L1095.2 754.0L1098.5 754.0L1101.8 756.2L1104.7 770.6L1108.0 773.5L1111.7 739.7L1115.0 741.9L1118.3 750.7L1121.0 741.9L1125.0 748.5L1128.3 725.3L1131.1 728.6L1134.9 701.5L1138.2 714.3L1141.5 728.6L1144.8 734.2L1148.1 740.3L1151.5 723.1L1154.3 715.4L1157.0 713.9L1160.3 712.1L1163.6 709.4L1166.9 707.2L1170.0 695.5L1172.0 694.0L1174.6 692.5L1174.6 660.7L9.9 660.7z" fill="url(#gg)" clip-path="url(#c70)"/>
<path d="M9.9 711.0L13.7 713.2L15.9 714.3L18.8 713.2L22.1 729.8L25.4 737.5L28.7 740.8L32.0 739.7L34.9 720.5L36.4 724.2L39.3 736.4L41.9 732.0L45.3 726.4L48.1 728.6L51.9 756.7L55.2 751.4L58.1 764.6L61.1 722.7L64.5 735.9L67.3 718.7L70.6 708.3L74.0 716.1L77.3 712.1L80.6 716.9L83.9 714.3L88.3 709.4L91.6 712.5L94.9 708.8L97.1 708.1L100.4 696.6L103.8 667.5L108.2 665.7L114.8 662.4L117.0 663.5L120.3 671.3L123.2 665.7L126.9 672.4L130.2 673.5L133.6 660.9L136.4 659.6L139.5 669.0L143.5 688.3L145.7 684.5L150.1 672.4L152.8 671.3L155.6 643.7L158.9 645.9L162.9 640.3L165.6 643.7L169.5 661.3L172.6 656.5L176.6 662.4L179.9 661.8L185.0 669.0L188.7 651.4L192.1 662.4L195.4 656.9L198.7 644.8L202.0 636.6L204.9 679.0L208.6 675.7L213.0 669.7L215.9 670.2L218.5 674.6L223.0 692.2L228.5 716.9L231.8 711.0L234.4 704.4L238.4 703.3L242.8 712.1L246.8 739.7L250.6 720.9L253.9 708.8L257.2 706.6L260.0 678.5L263.8 678.5L267.1 692.2L270.4 715.4L272.6 713.2L276.4 718.3L279.9 716.5L283.0 707.2L287.0 725.3L290.3 722.0L293.2 724.2L296.9 736.4L299.9 743.0L303.2 751.8L305.9 714.3L309.9 706.6L313.2 699.3L316.5 703.3L320.9 701.5L323.1 698.8L326.0 692.2L329.3 707.7L331.9 718.7L335.3 692.7L339.0 689.6L342.3 704.4L345.2 702.2L348.1 694.9L351.8 704.4L354.7 700.0L358.0 680.1L361.3 659.1L365.1 651.4L367.7 652.5L370.6 646.3L375.0 643.2L378.3 666.2L381.6 661.3L383.8 659.6L387.1 671.3L390.4 673.5L394.2 680.1L397.1 679.0L400.4 663.5L403.7 677.2L406.6 682.3L410.3 690.5L413.6 688.9L416.9 677.2L420.2 692.2L423.6 694.4L427.3 695.5L430.2 718.7L433.5 740.8L437.2 746.8L440.1 729.8L443.0 720.9L446.3 728.6L450.0 719.8L452.9 698.8L455.6 706.6L458.9 709.4L462.6 686.7L465.5 691.8L468.8 681.2L472.1 664.6L475.4 707.7L478.7 714.7L482.1 715.4L485.4 714.7L488.7 723.1L492.0 746.3L494.9 734.2L498.6 745.2L501.9 713.9L505.2 726.4L508.5 738.6L511.9 750.7L515.2 739.7L517.8 740.8L520.7 733.1L524.4 753.6L528.0 750.1L531.1 752.9L535.0 740.8L537.7 730.9L541.0 727.1L544.3 733.1L547.2 733.5L551.1 736.4L553.8 729.8L557.1 720.9L559.8 723.1L563.7 706.6L567.0 694.4L570.4 690.5L573.7 691.8L577.0 698.8L579.6 698.4L583.2 686.7L586.6 690.0L589.9 685.2L593.2 702.2L596.6 704.4L600.3 708.1L603.2 734.2L606.5 740.3L609.1 725.3L613.1 758.5L616.4 751.8L619.3 751.4L622.4 723.1L625.7 708.1L628.6 710.3L631.9 680.1L635.2 671.3L638.5 662.4L641.8 661.3L645.1 656.5L649.1 652.0L651.7 685.2L655.1 674.6L658.4 688.9L661.7 740.8L665.0 750.3L668.3 725.3L670.9 724.9L673.8 731.5L677.1 741.9L680.4 751.8L684.2 760.7L688.2 755.1L691.5 744.1L694.1 734.2L697.0 745.2L701.0 747.9L703.6 732.0L706.9 726.4L711.3 721.4L714.0 705.5L717.3 708.8L720.6 717.6L723.9 729.8L727.2 741.5L730.1 734.2L733.4 729.3L737.2 726.4L740.0 749.6L743.4 769.0L746.0 752.3L750.0 761.8L753.3 748.5L755.9 752.9L759.2 738.6L763.2 729.8L766.5 745.2L769.8 752.3L772.5 759.6L776.0 775.0L778.7 767.7L782.0 771.7L785.7 778.8L789.3 772.8L791.9 777.2L795.2 791.1L798.5 794.2L801.9 796.0L805.2 778.3L808.5 768.4L811.8 771.3L815.1 748.5L818.4 743.0L821.7 745.2L825.0 745.6L828.3 748.5L831.0 767.3L834.3 732.4L838.3 720.5L841.1 728.6L844.2 740.3L847.5 740.3L851.1 733.1L853.7 731.5L857.0 718.3L860.4 722.0L864.1 719.2L867.0 733.1L870.0 733.1L873.3 743.0L876.6 754.5L879.9 743.0L883.2 751.8L887.2 755.1L889.9 734.2L893.2 732.0L896.5 729.3L899.8 729.8L903.1 738.6L906.0 736.4L909.7 740.1L913.0 739.0L916.4 732.6L919.0 732.0L923.0 738.6L926.3 723.1L928.5 733.1L931.8 718.7L935.1 709.9L938.4 701.1L941.7 691.1L945.1 673.0L949.0 674.1L952.1 703.3L955.0 706.6L958.3 712.1L961.6 713.2L964.9 707.7L968.2 704.4L971.1 669.0L974.9 659.6L978.2 677.2L980.4 677.9L983.7 683.4L987.0 696.6L991.0 712.1L994.1 747.4L996.9 737.5L1000.2 735.9L1003.6 735.7L1006.9 739.7L1010.8 758.5L1013.9 740.8L1017.2 730.9L1020.1 730.2L1023.4 761.8L1026.7 764.6L1030.0 789.4L1033.4 794.9L1036.7 777.2L1040.0 788.3L1042.6 796.0L1045.9 815.8L1049.9 767.3L1052.8 770.6L1056.5 765.1L1059.8 765.5L1063.2 769.5L1066.5 775.0L1068.7 777.2L1072.6 760.7L1076.0 753.6L1079.3 757.3L1081.9 757.3L1085.2 761.8L1089.0 766.6L1091.9 761.8L1095.2 754.0L1098.5 754.0L1101.8 756.2L1104.7 770.6L1108.0 773.5L1111.7 739.7L1115.0 741.9L1118.3 750.7L1121.0 741.9L1125.0 748.5L1128.3 725.3L1131.1 728.6L1134.9 701.5L1138.2 714.3L1141.5 728.6L1144.8 734.2L1148.1 740.3L1151.5 723.1L1154.3 715.4L1157.0 713.9L1160.3 712.1L1163.6 709.4L1166.9 707.2L1170.0 695.5L1172.0 694.0L1174.6 692.5L1174.6 775.5L9.9 775.5z" fill="url(#gr)" clip-path="url(#c30)"/>
<path d="M9.9 711.0L13.7 713.2L15.9 714.3L18.8 713.2L22.1 729.8L25.4 737.5L28.7 740.8L32.0 739.7L34.9 720.5L36.4 724.2L39.3 736.4L41.9 732.0L45.3 726.4L48.1 728.6L51.9 756.7L55.2 751.4L58.1 764.6L61.1 722.7L64.5 735.9L67.3 718.7L70.6 708.3L74.0 716.1L77.3 712.1L80.6 716.9L83.9 714.3L88.3 709.4L91.6 712.5L94.9 708.8L97.1 708.1L100.4 696.6L103.8 667.5L108.2 665.7L114.8 662.4L117.0 663.5L120.3 671.3L123.2 665.7L126.9 672.4L130.2 673.5L133.6 660.9L136.4 659.6L139.5 669.0L143.5 688.3L145.7 684.5L150.1 672.4L152.8 671.3L155.6 643.7L158.9 645.9L162.9 640.3L165.6 643.7L169.5 661.3L172.6 656.5L176.6 662.4L179.9 661.8L185.0 669.0L188.7 651.4L192.1 662.4L195.4 656.9L198.7 644.8L202.0 636.6L204.9 679.0L208.6 675.7L213.0 669.7L215.9 670.2L218.5 674.6L223.0 692.2L228.5 716.9L231.8 711.0L234.4 704.4L238.4 703.3L242.8 712.1L246.8 739.7L250.6 720.9L253.9 708.8L257.2 706.6L260.0 678.5L263.8 678.5L267.1 692.2L270.4 715.4L272.6 713.2L276.4 718.3L279.9 716.5L283.0 707.2L287.0 725.3L290.3 722.0L293.2 724.2L296.9 736.4L299.9 743.0L303.2 751.8L305.9 714.3L309.9 706.6L313.2 699.3L316.5 703.3L320.9 701.5L323.1 698.8L326.0 692.2L329.3 707.7L331.9 718.7L335.3 692.7L339.0 689.6L342.3 704.4L345.2 702.2L348.1 694.9L351.8 704.4L354.7 700.0L358.0 680.1L361.3 659.1L365.1 651.4L367.7 652.5L370.6 646.3L375.0 643.2L378.3 666.2L381.6 661.3L383.8 659.6L387.1 671.3L390.4 673.5L394.2 680.1L397.1 679.0L400.4 663.5L403.7 677.2L406.6 682.3L410.3 690.5L413.6 688.9L416.9 677.2L420.2 692.2L423.6 694.4L427.3 695.5L430.2 718.7L433.5 740.8L437.2 746.8L440.1 729.8L443.0 720.9L446.3 728.6L450.0 719.8L452.9 698.8L455.6 706.6L458.9 709.4L462.6 686.7L465.5 691.8L468.8 681.2L472.1 664.6L475.4 707.7L478.7 714.7L482.1 715.4L485.4 714.7L488.7 723.1L492.0 746.3L494.9 734.2L498.6 745.2L501.9 713.9L505.2 726.4L508.5 738.6L511.9 750.7L515.2 739.7L517.8 740.8L520.7 733.1L524.4 753.6L528.0 750.1L531.1 752.9L535.0 740.8L537.7 730.9L541.0 727.1L544.3 733.1L547.2 733.5L551.1 736.4L553.8 729.8L557.1 720.9L559.8 723.1L563.7 706.6L567.0 694.4L570.4 690.5L573.7 691.8L577.0 698.8L579.6 698.4L583.2 686.7L586.6 690.0L589.9 685.2L593.2 702.2L596.6 704.4L600.3 708.1L603.2 734.2L606.5 740.3L609.1 725.3L613.1 758.5L616.4 751.8L619.3 751.4L622.4 723.1L625.7 708.1L628.6 710.3L631.9 680.1L635.2 671.3L638.5 662.4L641.8 661.3L645.1 656.5L649.1 652.0L651.7 685.2L655.1 674.6L658.4 688.9L661.7 740.8L665.0 750.3L668.3 725.3L670.9 724.9L673.8 731.5L677.1 741.9L680.4 751.8L684.2 760.7L688.2 755.1L691.5 744.1L694.1 734.2L697.0 745.2L701.0 747.9L703.6 732.0L706.9 726.4L711.3 721.4L714.0 705.5L717.3 708.8L720.6 717.6L723.9 729.8L727.2 741.5L730.1 734.2L733.4 729.3L737.2 726.4L740.0 749.6L743.4 769.0L746.0 752.3L750.0 761.8L753.3 748.5L755.9 752.9L759.2 738.6L763.2 729.8L766.5 745.2L769.8 752.3L772.5 759.6L776.0 775.0L778.7 767.7L782.0 771.7L785.7 778.8L789.3 772.8L791.9 777.2L795.2 791.1L798.5 794.2L801.9 796.0L805.2 778.3L808.5 768.4L811.8 771.3L815.1 748.5L818.4 743.0L821.7 745.2L825.0 745.6L828.3 748.5L831.0 767.3L834.3 732.4L838.3 720.5L841.1 728.6L844.2 740.3L847.5 740.3L851.1 733.1L853.7 731.5L857.0 718.3L860.4 722.0L864.1 719.2L867.0 733.1L870.0 733.1L873.3 743.0L876.6 754.5L879.9 743.0L883.2 751.8L887.2 755.1L889.9 734.2L893.2 732.0L896.5 729.3L899.8 729.8L903.1 738.6L906.0 736.4L909.7 740.1L913.0 739.0L916.4 732.6L919.0 732.0L923.0 738.6L926.3 723.1L928.5 733.1L931.8 718.7L935.1 709.9L938.4 701.1L941.7 691.1L945.1 673.0L949.0 674.1L952.1 703.3L955.0 706.6L958.3 712.1L961.6 713.2L964.9 707.7L968.2 704.4L971.1 669.0L974.9 659.6L978.2 677.2L980.4 677.9L983.7 683.4L987.0 696.6L991.0 712.1L994.1 747.4L996.9 737.5L1000.2 735.9L1003.6 735.7L1006.9 739.7L1010.8 758.5L1013.9 740.8L1017.2 730.9L1020.1 730.2L1023.4 761.8L1026.7 764.6L1030.0 789.4L1033.4 794.9L1036.7 777.2L1040.0 788.3L1042.6 796.0L1045.9 815.8L1049.9 767.3L1052.8 770.6L1056.5 765.1L1059.8 765.5L1063.2 769.5L1066.5 775.0L1068.7 777.2L1072.6 760.7L1076.0 753.6L1079.3 757.3L1081.9 757.3L1085.2 761.8L1089.0 766.6L1091.9 761.8L1095.2 754.0L1098.5 754.0L1101.8 756.2L1104.7 770.6L1108.0 773.5L1111.7 739.7L1115.0 741.9L1118.3 750.7L1121.0 741.9L1125.0 748.5L1128.3 725.3L1131.1 728.6L1134.9 701.5L1138.2 714.3L1141.5 728.6L1144.8 734.2L1148.1 740.3L1151.5 723.1L1154.3 715.4L1157.0 713.9L1160.3 712.1L1163.6 709.4L1166.9 707.2L1170.0 695.5L1172.0 694.0L1174.6 692.5" stroke="#7e57c2" stroke-width="2.8" fill="none" stroke-linejoin="round" stroke-linecap="round"/>
<path d="M9.9 732.4C10.9 731.8 13.6 729.8 15.5 728.6C17.3 727.5 18.8 726.1 21.0 725.8C23.2 725.4 25.9 726.3 28.7 726.4C31.5 726.6 34.6 726.4 37.5 726.4C40.5 726.4 44.0 726.1 46.4 726.4C48.7 726.8 49.9 727.2 51.9 728.6C53.9 730.1 56.3 733.8 58.5 735.3C60.7 736.7 62.7 737.8 65.1 737.5C67.5 737.1 70.5 734.3 72.8 733.1C75.2 731.8 76.9 731.1 79.5 730.2C82.0 729.3 85.7 728.4 88.3 727.5C90.9 726.7 92.7 726.7 94.9 724.9C97.1 723.1 99.0 720.3 101.5 716.5C104.1 712.7 107.4 706.4 110.4 702.2C113.3 697.9 116.3 694.4 119.2 691.1C122.1 687.8 125.1 685.2 128.0 682.3C131.0 679.3 133.9 675.6 136.9 673.5C139.8 671.4 143.1 670.3 145.7 669.7C148.3 669.2 150.1 670.6 152.3 670.2C154.5 669.7 156.4 667.9 158.9 666.8C161.5 665.7 164.8 664.4 167.8 663.5C170.7 662.7 173.7 662.1 176.6 661.8C179.5 661.4 182.5 662.1 185.4 661.3C188.4 660.5 191.7 658.1 194.3 656.9C196.8 655.7 198.7 653.9 200.9 654.3C203.1 654.6 205.1 657.9 207.5 659.1C209.9 660.3 212.7 660.2 215.2 661.3C217.8 662.4 220.2 663.3 223.0 665.7C225.7 668.1 228.8 672.5 231.8 675.7C234.7 678.8 238.0 680.9 240.6 684.5C243.2 688.1 244.7 693.9 247.2 697.1C249.8 700.3 253.1 702.3 256.1 703.7C259.0 705.1 262.0 705.0 264.9 705.5C267.8 705.9 270.8 706.2 273.7 706.6C276.7 706.9 280.0 707.2 282.6 707.7C285.1 708.2 287.3 709.3 289.2 709.4C291.0 709.6 292.0 708.3 293.6 708.8C295.2 709.2 296.9 710.4 298.8 712.1C300.8 713.7 303.2 717.2 305.5 718.7C307.7 720.2 309.5 721.0 312.1 720.9C314.7 720.8 318.3 719.1 320.9 718.3C323.5 717.5 325.3 716.7 327.5 716.1C329.7 715.4 331.6 715.7 334.2 714.3C336.7 712.9 340.6 709.8 343.0 707.7C345.4 705.5 346.7 702.6 348.5 701.5C350.3 700.4 352.0 701.8 354.0 701.1C356.0 700.3 358.1 699.4 360.6 697.1C363.2 694.8 366.5 690.6 369.5 687.4C372.4 684.2 375.4 680.7 378.3 677.9C381.2 675.0 384.2 672.1 387.1 670.2C390.1 668.2 393.4 667.3 396.0 666.2C398.5 665.1 400.4 663.4 402.6 663.5C404.8 663.6 406.6 665.0 409.2 666.8C411.8 668.7 415.1 672.4 418.0 674.6C421.0 676.8 424.3 677.7 426.9 680.1C429.4 682.5 431.3 686.0 433.5 688.9C435.7 691.9 437.9 694.9 440.1 697.7C442.3 700.6 444.5 703.8 446.7 705.9C448.9 708.0 451.1 709.2 453.4 710.3C455.6 711.5 457.8 712.3 460.0 712.8C462.2 713.2 464.4 713.7 466.6 713.2C468.8 712.7 471.0 711.0 473.2 709.9C475.4 708.8 477.8 707.5 479.8 706.6C481.9 705.7 483.5 704.6 485.4 704.4C487.2 704.1 488.9 704.3 490.9 705.0C492.9 705.8 495.1 707.8 497.5 708.8C499.9 709.8 503.0 709.5 505.2 711.0C507.4 712.5 508.7 714.8 510.8 717.6C512.8 720.4 515.2 725.4 517.4 728.0C519.6 730.6 521.4 731.1 524.0 733.1C526.6 735.0 530.3 738.8 532.8 739.7C535.4 740.6 537.4 739.0 539.4 738.6C541.5 738.2 542.9 737.2 545.0 737.5C547.0 737.7 549.2 740.3 551.6 740.1C554.0 739.9 556.9 737.7 559.3 736.4C561.7 735.0 563.7 734.0 565.9 732.0C568.1 729.9 570.4 726.8 572.6 724.2C574.8 721.7 576.8 719.1 579.2 716.5C581.5 713.9 584.3 711.1 586.6 708.8C589.0 706.5 591.0 704.3 593.2 702.8C595.5 701.3 597.5 699.9 599.9 700.0C602.3 700.0 605.0 701.1 607.6 703.3C610.2 705.5 612.9 710.6 615.3 713.2C617.7 715.8 619.6 717.4 621.9 718.7C624.3 720.0 627.1 721.1 629.7 720.9C632.2 720.7 634.8 719.6 637.4 717.6C640.0 715.6 642.5 712.1 645.1 708.8C647.7 705.5 650.5 700.7 652.8 697.7C655.2 694.8 657.1 692.3 659.5 691.1C661.9 689.9 664.6 690.0 667.2 690.5C669.8 690.9 672.5 691.3 674.9 694.0C677.3 696.7 679.3 702.5 681.5 706.6C683.8 710.7 686.0 714.7 688.2 718.7C690.4 722.8 692.2 726.9 694.8 730.9C697.4 734.8 700.7 741.3 703.6 742.6C706.6 743.8 709.5 739.8 712.5 738.6C715.4 737.4 718.3 736.4 721.3 735.3C724.2 734.2 727.5 733.0 730.1 732.0C732.7 730.9 734.5 729.2 736.7 729.1C738.9 729.0 740.8 730.6 743.4 731.5C745.9 732.4 749.2 733.1 752.2 734.6C755.1 736.2 757.7 738.8 761.0 740.8C764.3 742.7 768.4 743.7 772.1 746.3C775.7 748.9 780.1 754.3 783.1 756.2C786.0 758.2 787.1 756.7 789.7 758.0C792.3 759.3 796.0 761.9 798.5 764.0C801.1 766.1 803.0 768.6 805.2 770.6C807.4 772.5 809.8 774.9 811.8 775.7C813.8 776.4 815.5 775.7 817.3 775.0C819.1 774.3 820.4 772.9 822.8 771.7C825.2 770.5 829.1 769.6 831.7 767.7C834.2 765.9 835.7 763.9 838.3 760.7C840.9 757.5 844.2 752.2 847.1 748.5C850.1 744.8 853.0 740.9 855.9 738.6C858.9 736.3 862.4 735.4 864.8 734.6C867.1 733.8 868.0 734.1 870.0 733.7C872.0 733.4 874.8 732.5 876.6 732.6C878.5 732.7 879.2 733.4 881.0 734.2C882.9 734.9 885.1 736.8 887.7 737.0C890.2 737.3 893.9 735.7 896.5 735.7C899.1 735.7 900.9 736.3 903.1 737.0C905.3 737.8 907.2 739.7 909.7 740.1C912.3 740.6 915.6 740.4 918.6 739.7C921.5 739.0 924.5 737.5 927.4 735.9C930.3 734.4 933.3 732.7 936.2 730.2C939.2 727.7 942.1 723.8 945.1 720.9C948.0 718.1 950.9 715.3 953.9 713.2C956.8 711.1 960.1 709.8 962.7 708.1C965.3 706.5 967.1 705.4 969.3 703.3C971.5 701.2 973.9 697.7 976.0 695.5C978.0 693.4 980.0 691.5 981.5 690.5C983.0 689.5 983.5 689.4 984.8 689.6C986.1 689.8 987.5 690.2 989.2 691.8C990.9 693.3 992.5 696.9 994.7 698.8C996.9 700.8 999.7 701.7 1002.5 703.7C1005.2 705.7 1008.3 707.9 1011.3 711.0C1014.2 714.0 1017.5 718.2 1020.1 722.0C1022.7 725.9 1024.5 729.9 1026.7 734.2C1028.9 738.4 1031.1 743.7 1033.4 747.4C1035.6 751.1 1037.8 753.1 1040.0 756.2C1042.2 759.4 1044.4 764.0 1046.6 766.2C1048.8 768.4 1051.0 768.4 1053.2 769.5C1055.4 770.6 1057.6 771.3 1059.8 772.8C1062.1 774.3 1064.4 777.2 1066.5 778.3C1068.5 779.4 1070.1 780.0 1072.0 779.4C1073.8 778.9 1074.7 776.7 1077.5 775.0C1080.3 773.4 1086.0 771.1 1088.5 769.5C1091.1 767.9 1090.8 766.6 1093.0 765.5C1095.2 764.4 1099.2 763.3 1101.8 762.9C1104.4 762.4 1106.2 763.6 1108.4 762.9C1110.6 762.1 1112.5 759.6 1115.0 758.5C1117.6 757.3 1121.3 757.3 1123.9 756.2C1126.4 755.1 1128.3 754.0 1130.5 751.8C1132.7 749.6 1134.5 745.2 1137.1 743.0C1139.7 740.8 1143.0 740.8 1145.9 738.6C1148.9 736.4 1152.2 732.0 1154.8 729.8C1157.3 727.5 1159.4 727.0 1161.4 725.3C1163.4 723.7 1165.5 721.2 1166.9 719.8C1168.3 718.4 1168.9 717.7 1170.0 716.9C1171.1 716.2 1173.1 715.6 1173.7 715.3" stroke="#fdd835" stroke-width="1.15" fill="none" stroke-linejoin="round" stroke-linecap="round"/>
</g>
<path d="M10 626.5H1351" stroke="#dde0ec" stroke-width="1" fill="none"/>
<path d="M10 827.5H1351M1273.5 27V855" stroke="#dddee3" stroke-width="1" fill="none"/>
<text x="1282.0" y="598.7" fill="#131722" textLength="52.8" lengthAdjust="spacingAndGlyphs" stroke="#131722" stroke-width="0.22">60,000.00</text>
<text x="1282.0" y="566.2" fill="#131722" textLength="52.8" lengthAdjust="spacingAndGlyphs" stroke="#131722" stroke-width="0.22">64,000.00</text>
<text x="1282.0" y="533.6" fill="#131722" textLength="52.8" lengthAdjust="spacingAndGlyphs" stroke="#131722" stroke-width="0.22">68,000.00</text>
<text x="1282.0" y="501.1" fill="#131722" textLength="52.8" lengthAdjust="spacingAndGlyphs" stroke="#131722" stroke-width="0.22">72,000.00</text>
<text x="1282.0" y="468.6" fill="#131722" textLength="52.8" lengthAdjust="spacingAndGlyphs" stroke="#131722" stroke-width="0.22">76,000.00</text>
<text x="1282.0" y="436.0" fill="#131722" textLength="52.8" lengthAdjust="spacingAndGlyphs" stroke="#131722" stroke-width="0.22">80,000.00</text>
<text x="1282.0" y="403.5" fill="#131722" textLength="52.8" lengthAdjust="spacingAndGlyphs" stroke="#131722" stroke-width="0.22">84,000.00</text>
<text x="1282.0" y="370.9" fill="#131722" textLength="52.8" lengthAdjust="spacingAndGlyphs" stroke="#131722" stroke-width="0.22">88,000.00</text>
<text x="1282.0" y="338.4" fill="#131722" textLength="52.8" lengthAdjust="spacingAndGlyphs" stroke="#131722" stroke-width="0.22">92,000.00</text>
<text x="1282.0" y="305.9" fill="#131722" textLength="52.8" lengthAdjust="spacingAndGlyphs" stroke="#131722" stroke-width="0.22">96,000.00</text>
<text x="1282.0" y="273.3" fill="#131722" textLength="58.6" lengthAdjust="spacingAndGlyphs" stroke="#131722" stroke-width="0.22">100,000.00</text>
<text x="1282.0" y="240.8" fill="#131722" textLength="58.6" lengthAdjust="spacingAndGlyphs" stroke="#131722" stroke-width="0.22">104,000.00</text>
<text x="1282.0" y="208.2" fill="#131722" textLength="58.6" lengthAdjust="spacingAndGlyphs" stroke="#131722" stroke-width="0.22">108,000.00</text>
<text x="1282.0" y="175.7" fill="#131722" textLength="58.6" lengthAdjust="spacingAndGlyphs" stroke="#131722" stroke-width="0.22">112,000.00</text>
<text x="1282.0" y="143.2" fill="#131722" textLength="58.6" lengthAdjust="spacingAndGlyphs" stroke="#131722" stroke-width="0.22">116,000.00</text>
<text x="1282.0" y="110.6" fill="#131722" textLength="58.6" lengthAdjust="spacingAndGlyphs" stroke="#131722" stroke-width="0.22">120,000.00</text>
<text x="1282.0" y="78.1" fill="#131722" textLength="58.6" lengthAdjust="spacingAndGlyphs" stroke="#131722" stroke-width="0.22">124,000.00</text>
<text x="1282.0" y="808.1" fill="#131722" textLength="29.6" lengthAdjust="spacingAndGlyphs" stroke="#131722" stroke-width="0.22">20.00</text>
<text x="1282.0" y="750.7" fill="#131722" textLength="29.6" lengthAdjust="spacingAndGlyphs" stroke="#131722" stroke-width="0.22">40.00</text>
<text x="1282.0" y="635.9" fill="#131722" textLength="29.6" lengthAdjust="spacingAndGlyphs" stroke="#131722" stroke-width="0.22">80.00</text>
<rect x="1274" y="49" width="73" height="16.6" rx="2" fill="#0000ff"/>
<text x="1282.0" y="59.6" fill="#fff" textLength="58.6" lengthAdjust="spacingAndGlyphs" font-weight="bold">126,199.63</text>
<path d="M1274.0 279.2h63.8a2 2 0 0 1 2 2v12.6a2 2 0 0 1 -2 2h-63.8z" fill="#0000ff"/>
<text x="1282.0" y="290.8" fill="#fff" textLength="52.8" lengthAdjust="spacingAndGlyphs" font-weight="bold">97,924.00</text>
<path d="M1274.0 304.0h63.8a2 2 0 0 1 2 2v12.6a2 2 0 0 1 -2 2h-63.8z" fill="#0000ff"/>
<text x="1282.0" y="315.6" fill="#fff" textLength="52.8" lengthAdjust="spacingAndGlyphs" font-weight="bold">94,789.00</text>
<path d="M1274.0 392.2h63.8a2 2 0 0 1 2 2v12.6a2 2 0 0 1 -2 2h-63.8z" fill="#0000ff"/>
<text x="1282.0" y="403.8" fill="#fff" textLength="52.8" lengthAdjust="spacingAndGlyphs" font-weight="bold">84,000.00</text>
<path d="M1274.0 462.1h63.8a2 2 0 0 1 2 2v12.6a2 2 0 0 1 -2 2h-63.8z" fill="#0000ff"/>
<text x="1282.0" y="473.7" fill="#fff" textLength="52.8" lengthAdjust="spacingAndGlyphs" font-weight="bold">74,508.00</text>
<path d="M1274.0 479.3h63.8a2 2 0 0 1 2 2v40.6a2 2 0 0 1 -2 2h-63.8z" fill="#26a69a"/>
<text x="1282.0" y="490.7" fill="#fff" textLength="52.8" lengthAdjust="spacingAndGlyphs" font-weight="bold">73,348.36</text>
<text x="1282.0" y="505.3" fill="#fff" textLength="43.0" lengthAdjust="spacingAndGlyphs" font-weight="bold">−14.79%</text>
<text x="1282.0" y="519.2" fill="#fff" textLength="46.5" lengthAdjust="spacingAndGlyphs" font-weight="bold" fill-opacity="0.75">07:48:54</text>
<path d="M1273.0 479.3h-55.0a2 2 0 0 0 -2 2v12.5a2 2 0 0 0 2 2h55.0z" fill="#26a69a"/>
<text x="1220.5" y="491.7" fill="#fff" textLength="48.4" lengthAdjust="spacingAndGlyphs" font-weight="bold">BTCUSDT</text>
<path d="M1273.0 524.1h-48.0a2 2 0 0 0 -2 2v12.6a2 2 0 0 0 2 2h48.0z" fill="#f23645"/>
<text x="1228.0" y="536.6" fill="#fff" textLength="41.0" lengthAdjust="spacingAndGlyphs" font-weight="bold">SMA:MA</text>
<path d="M1274.0 524.1h63.8a2 2 0 0 1 2 2v12.6a2 2 0 0 1 -2 2h-63.8z" fill="#f23645"/>
<text x="1282.0" y="535.7" fill="#fff" textLength="52.8" lengthAdjust="spacingAndGlyphs" font-weight="bold">71,158.95</text>
<path d="M1273.0 541.3h-28.9a2 2 0 0 0 -2 2v12.4a2 2 0 0 0 2 2h28.9z" fill="#2962ff"/>
<text x="1247.0" y="553.7" fill="#fff" textLength="21.8" lengthAdjust="spacingAndGlyphs" font-weight="bold">EMA</text>
<path d="M1274.0 541.2h63.8a2 2 0 0 1 2 2v12.6a2 2 0 0 1 -2 2h-63.8z" fill="#2962ff"/>
<text x="1282.0" y="552.8" fill="#fff" textLength="52.8" lengthAdjust="spacingAndGlyphs" font-weight="bold">70,028.81</text>
<path d="M1273.2 684.3h-23.2a2 2 0 0 0 -2 2v12.6a2 2 0 0 0 2 2h23.2z" fill="#7e57c2"/>
<text x="1252.8" y="696.9" fill="#fff" textLength="16.0" lengthAdjust="spacingAndGlyphs" stroke="#fff" stroke-width="0.22">RSI</text>
<path d="M1274.0 684.3h40.5a2 2 0 0 1 2 2v12.6a2 2 0 0 1 -2 2h-40.5z" fill="#7e57c2"/>
<text x="1282.0" y="696.5" fill="#fff" textLength="29.6" lengthAdjust="spacingAndGlyphs" stroke="#fff" stroke-width="0.22">58.91</text>
<path d="M1273.0 707.4h-77.4a2 2 0 0 0 -2 2v12.6a2 2 0 0 0 2 2h77.4z" fill="#fdd835"/>
<text x="1198.4" y="720.0" fill="#131722" textLength="70.5" lengthAdjust="spacingAndGlyphs" stroke="#131722" stroke-width="0.22">RSI-based MA</text>
<path d="M1274.0 707.4h40.5a2 2 0 0 1 2 2v12.6a2 2 0 0 1 -2 2h-40.5z" fill="#fdd835"/>
<text x="1282.0" y="719.6" fill="#131722" textLength="29.6" lengthAdjust="spacingAndGlyphs" stroke="#131722" stroke-width="0.22">50.94</text>
<rect x="1273.9" y="27.8" width="76.3" height="33" fill="#fff"/>
<rect x="1276.7" y="30.7" width="70.4" height="26.3" rx="3.5" fill="#fff" stroke="#eceef2" stroke-width="1.2"/>
<text x="1286.4" y="49.2" fill="#131722" textLength="27.2" lengthAdjust="spacingAndGlyphs" stroke="#131722" stroke-width="0.22">USDT</text>
<text x="35.5" y="845.3" fill="#131722" stroke="#131722" stroke-width="0.22" text-anchor="middle">Apr</text>
<text x="133.5" y="845.3" fill="#131722" stroke="#131722" stroke-width="0.22" text-anchor="middle">May</text>
<text x="234.5" y="845.3" fill="#131722" stroke="#131722" stroke-width="0.22" text-anchor="middle">Jun</text>
<text x="332.5" y="845.3" fill="#131722" stroke="#131722" stroke-width="0.22" text-anchor="middle">Jul</text>
<text x="433.5" y="845.3" fill="#131722" stroke="#131722" stroke-width="0.22" text-anchor="middle">Aug</text>
<text x="534.5" y="845.3" fill="#131722" stroke="#131722" stroke-width="0.22" text-anchor="middle">Sep</text>
<text x="632.5" y="845.3" fill="#131722" stroke="#131722" stroke-width="0.22" text-anchor="middle">Oct</text>
<text x="733.5" y="845.3" fill="#131722" stroke="#131722" stroke-width="0.22" text-anchor="middle">Nov</text>
<text x="831.5" y="845.3" fill="#131722" stroke="#131722" stroke-width="0.22" text-anchor="middle">Dec</text>
<text x="932.5" y="845.3" fill="#131722" font-weight="bold" text-anchor="middle">2026</text>
<text x="1033.5" y="845.3" fill="#131722" stroke="#131722" stroke-width="0.22" text-anchor="middle">Feb</text>
<text x="1125.5" y="845.3" fill="#131722" stroke="#131722" stroke-width="0.22" text-anchor="middle">Mar</text>
<text x="1226.5" y="845.3" fill="#131722" stroke="#131722" stroke-width="0.22" text-anchor="middle">Apr</text>
<text x="18.0" y="45.7" fill="#131722" textLength="177.6" lengthAdjust="spacingAndGlyphs" stroke="#131722" stroke-width="0.22">Bitcoin / TetherUS · 1D · Binance</text>
<text x="203.5" y="45.7" fill="#131722" textLength="7.5" lengthAdjust="spacingAndGlyphs" stroke="#131722" stroke-width="0.22">O</text>
<text x="211.7" y="45.7" fill="#26a69a" textLength="51.8" lengthAdjust="spacingAndGlyphs" stroke="#26a69a" stroke-width="0.22">72,815.25</text>
<text x="272.0" y="45.7" fill="#131722" textLength="6.9" lengthAdjust="spacingAndGlyphs" stroke="#131722" stroke-width="0.22">H</text>
<text x="279.9" y="45.7" fill="#26a69a" textLength="51.9" lengthAdjust="spacingAndGlyphs" stroke="#26a69a" stroke-width="0.22">74,509.52</text>
<text x="339.6" y="45.7" fill="#131722" textLength="5.4" lengthAdjust="spacingAndGlyphs" stroke="#131722" stroke-width="0.22">L</text>
<text x="346.5" y="45.7" fill="#26a69a" textLength="50.4" lengthAdjust="spacingAndGlyphs" stroke="#26a69a" stroke-width="0.22">72,270.41</text>
<text x="405.7" y="45.7" fill="#131722" textLength="6.3" lengthAdjust="spacingAndGlyphs" stroke="#131722" stroke-width="0.22">C</text>
<text x="413.0" y="45.7" fill="#26a69a" textLength="52.0" lengthAdjust="spacingAndGlyphs" stroke="#26a69a" stroke-width="0.22">73,348.36</text>
<text x="473.3" y="45.7" fill="#26a69a" textLength="90.4" lengthAdjust="spacingAndGlyphs" stroke="#26a69a" stroke-width="0.22">+533.12 (+0.73%)</text>
<text x="18.0" y="62.9" fill="#131722" textLength="82.0" lengthAdjust="spacingAndGlyphs" stroke="#131722" stroke-width="0.22">EMA (20, close)</text>
<text x="107.5" y="62.9" fill="#2962ff" textLength="52.5" lengthAdjust="spacingAndGlyphs" stroke="#2962ff" stroke-width="0.22">70,028.81</text>
<text x="18.0" y="79.8" fill="#131722" textLength="81.5" lengthAdjust="spacingAndGlyphs" stroke="#131722" stroke-width="0.22">SMA (50, close)</text>
<text x="107.5" y="79.8" fill="#f23645" textLength="52.0" lengthAdjust="spacingAndGlyphs" stroke="#f23645" stroke-width="0.22">71,158.95</text>
<text x="18.0" y="645.9" fill="#131722" textLength="75.7" lengthAdjust="spacingAndGlyphs" stroke="#131722" stroke-width="0.22">RSI (14, close)</text>
<text x="102.2" y="645.9" fill="#7e57c2" textLength="28.0" lengthAdjust="spacingAndGlyphs" stroke="#7e57c2" stroke-width="0.22">58.91</text>
<text x="138.6" y="645.9" fill="#fdd835" textLength="29.2" lengthAdjust="spacingAndGlyphs" stroke="#fdd835" stroke-width="0.22">50.94</text>
<g fill="#111111"><path d="M12.05 877.3H23.8V891.6H17.95V882.7H12.05z"/><circle cx="28.7" cy="879.9" r="2.6"/><path d="M34.1 877.3H41.9L36 891.6H29.4z"/></g>
<text x="49.2" y="891.6" fill="#111111" textLength="120.5" lengthAdjust="spacingAndGlyphs" font-weight="bold" font-size="20">TradingView</text>
</svg>
</body></html>
